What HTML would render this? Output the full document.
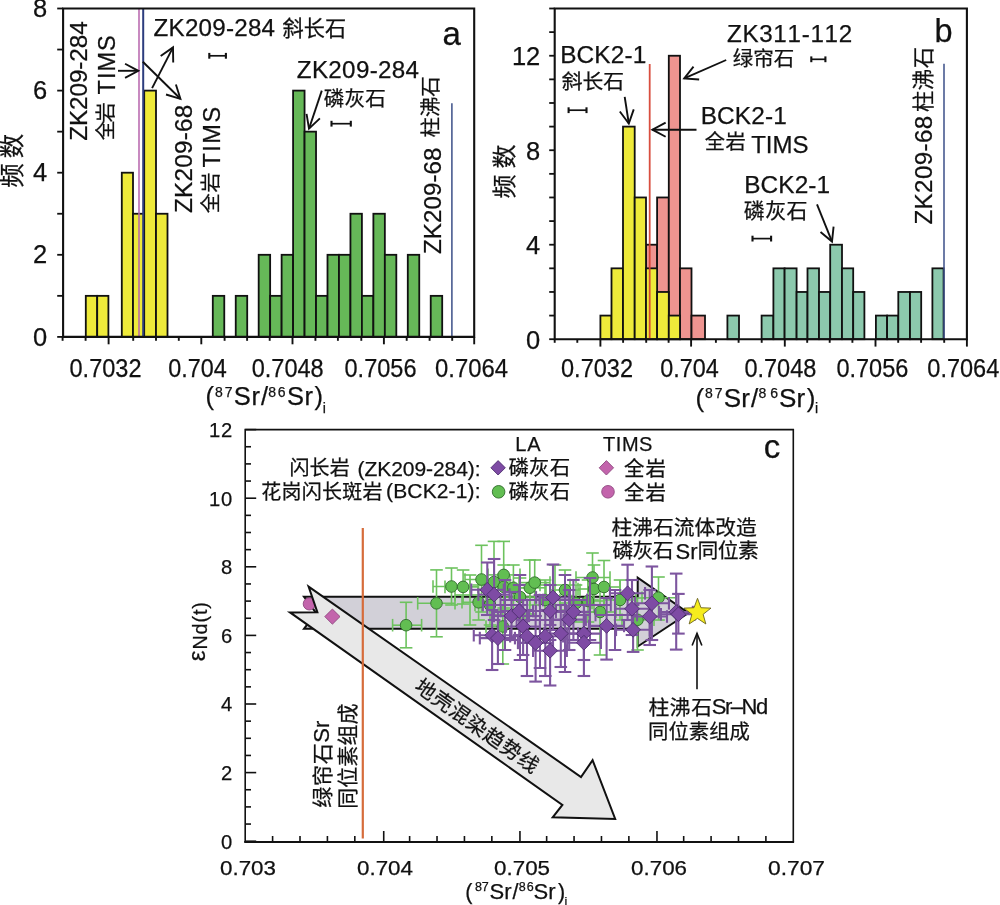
<!DOCTYPE html>
<html><head><meta charset="utf-8"><style>
html,body{margin:0;padding:0;background:#fff;}
svg{display:block;will-change:transform;}
text{stroke:#111;stroke-width:0.25px;font-kerning:none;}
</style></head><body>
<svg width="1000" height="905" viewBox="0 0 1000 905">
<rect width="1000" height="905" fill="#fff"/>
<rect x="85.80" y="295.85" width="11.40" height="41.05" fill="#EEEA3A" stroke="#111" stroke-width="1.8"/>
<rect x="97.20" y="295.85" width="11.20" height="41.05" fill="#EEEA3A" stroke="#111" stroke-width="1.8"/>
<rect x="121.80" y="172.70" width="11.20" height="164.20" fill="#EEEA3A" stroke="#111" stroke-width="1.8"/>
<rect x="133.00" y="213.75" width="11.20" height="123.15" fill="#EEEA3A" stroke="#111" stroke-width="1.8"/>
<rect x="144.20" y="90.60" width="11.80" height="246.30" fill="#EEEA3A" stroke="#111" stroke-width="1.8"/>
<rect x="156.00" y="213.75" width="11.50" height="123.15" fill="#EEEA3A" stroke="#111" stroke-width="1.8"/>
<rect x="212.80" y="295.85" width="11.47" height="41.05" fill="#66B858" stroke="#111" stroke-width="1.8"/>
<rect x="235.74" y="295.85" width="11.47" height="41.05" fill="#66B858" stroke="#111" stroke-width="1.8"/>
<rect x="258.68" y="254.80" width="11.47" height="82.10" fill="#66B858" stroke="#111" stroke-width="1.8"/>
<rect x="270.15" y="295.85" width="11.47" height="41.05" fill="#66B858" stroke="#111" stroke-width="1.8"/>
<rect x="281.62" y="254.80" width="11.47" height="82.10" fill="#66B858" stroke="#111" stroke-width="1.8"/>
<rect x="293.09" y="90.60" width="11.47" height="246.30" fill="#66B858" stroke="#111" stroke-width="1.8"/>
<rect x="304.56" y="131.65" width="11.47" height="205.25" fill="#66B858" stroke="#111" stroke-width="1.8"/>
<rect x="316.03" y="295.85" width="11.47" height="41.05" fill="#66B858" stroke="#111" stroke-width="1.8"/>
<rect x="327.50" y="254.80" width="11.47" height="82.10" fill="#66B858" stroke="#111" stroke-width="1.8"/>
<rect x="338.97" y="254.80" width="11.47" height="82.10" fill="#66B858" stroke="#111" stroke-width="1.8"/>
<rect x="350.44" y="213.75" width="11.47" height="123.15" fill="#66B858" stroke="#111" stroke-width="1.8"/>
<rect x="361.91" y="295.85" width="11.47" height="41.05" fill="#66B858" stroke="#111" stroke-width="1.8"/>
<rect x="373.38" y="213.75" width="11.47" height="123.15" fill="#66B858" stroke="#111" stroke-width="1.8"/>
<rect x="384.85" y="254.80" width="11.47" height="82.10" fill="#66B858" stroke="#111" stroke-width="1.8"/>
<rect x="407.79" y="254.80" width="11.47" height="82.10" fill="#66B858" stroke="#111" stroke-width="1.8"/>
<rect x="430.73" y="295.85" width="11.47" height="41.05" fill="#66B858" stroke="#111" stroke-width="1.8"/>
<line x1="139.00" y1="8.50" x2="139.00" y2="336.90" stroke="#B866AE" stroke-width="1.9" opacity="0.8"/>
<line x1="143.20" y1="8.50" x2="143.20" y2="336.90" stroke="#2C3D7E" stroke-width="2.0" />
<line x1="451.90" y1="103.30" x2="451.90" y2="336.90" stroke="#3B4F88" stroke-width="1.5" />
<path d="M63.1,336.9 L63.1,8.5 L474.2,8.5 L474.2,336.9 Z" fill="none" stroke="#111" stroke-width="2.1"/>
<line x1="57.20" y1="336.90" x2="63.10" y2="336.90" stroke="#111" stroke-width="1.8" />
<line x1="57.20" y1="295.85" x2="63.10" y2="295.85" stroke="#111" stroke-width="1.8" />
<line x1="57.20" y1="254.80" x2="63.10" y2="254.80" stroke="#111" stroke-width="1.8" />
<line x1="57.20" y1="213.75" x2="63.10" y2="213.75" stroke="#111" stroke-width="1.8" />
<line x1="57.20" y1="172.70" x2="63.10" y2="172.70" stroke="#111" stroke-width="1.8" />
<line x1="57.20" y1="131.65" x2="63.10" y2="131.65" stroke="#111" stroke-width="1.8" />
<line x1="57.20" y1="90.60" x2="63.10" y2="90.60" stroke="#111" stroke-width="1.8" />
<line x1="57.20" y1="49.55" x2="63.10" y2="49.55" stroke="#111" stroke-width="1.8" />
<line x1="57.20" y1="8.50" x2="63.10" y2="8.50" stroke="#111" stroke-width="1.8" />
<line x1="62.60" y1="336.90" x2="62.60" y2="340.80" stroke="#111" stroke-width="1.9" />
<line x1="85.60" y1="336.90" x2="85.60" y2="340.80" stroke="#111" stroke-width="1.9" />
<line x1="108.60" y1="336.90" x2="108.60" y2="344.30" stroke="#111" stroke-width="1.9" />
<line x1="133.20" y1="336.90" x2="133.20" y2="340.80" stroke="#111" stroke-width="1.9" />
<line x1="156.00" y1="336.90" x2="156.00" y2="340.80" stroke="#111" stroke-width="1.9" />
<line x1="178.80" y1="336.90" x2="178.80" y2="340.80" stroke="#111" stroke-width="1.9" />
<line x1="201.30" y1="336.90" x2="201.30" y2="344.30" stroke="#111" stroke-width="1.9" />
<line x1="224.60" y1="336.90" x2="224.60" y2="340.80" stroke="#111" stroke-width="1.9" />
<line x1="247.10" y1="336.90" x2="247.10" y2="340.80" stroke="#111" stroke-width="1.9" />
<line x1="269.70" y1="336.90" x2="269.70" y2="340.80" stroke="#111" stroke-width="1.9" />
<line x1="292.50" y1="336.90" x2="292.50" y2="344.30" stroke="#111" stroke-width="1.9" />
<line x1="315.40" y1="336.90" x2="315.40" y2="340.80" stroke="#111" stroke-width="1.9" />
<line x1="337.90" y1="336.90" x2="337.90" y2="340.80" stroke="#111" stroke-width="1.9" />
<line x1="361.30" y1="336.90" x2="361.30" y2="340.80" stroke="#111" stroke-width="1.9" />
<line x1="383.90" y1="336.90" x2="383.90" y2="344.30" stroke="#111" stroke-width="1.9" />
<line x1="406.70" y1="336.90" x2="406.70" y2="340.80" stroke="#111" stroke-width="1.9" />
<line x1="429.60" y1="336.90" x2="429.60" y2="340.80" stroke="#111" stroke-width="1.9" />
<line x1="452.20" y1="336.90" x2="452.20" y2="340.80" stroke="#111" stroke-width="1.9" />
<line x1="474.20" y1="336.90" x2="474.20" y2="344.30" stroke="#111" stroke-width="1.9" />
<text x="47.20" y="345.50" font-size="25.5" font-family="'Liberation Sans', Arial, sans-serif" text-anchor="end" fill="#111" >0</text>
<text x="47.20" y="263.40" font-size="25.5" font-family="'Liberation Sans', Arial, sans-serif" text-anchor="end" fill="#111" >2</text>
<text x="47.20" y="181.30" font-size="25.5" font-family="'Liberation Sans', Arial, sans-serif" text-anchor="end" fill="#111" >4</text>
<text x="47.20" y="99.20" font-size="25.5" font-family="'Liberation Sans', Arial, sans-serif" text-anchor="end" fill="#111" >6</text>
<text x="47.20" y="17.10" font-size="25.5" font-family="'Liberation Sans', Arial, sans-serif" text-anchor="end" fill="#111" >8</text>
<text x="105.50" y="377.00" font-size="26" font-family="'Liberation Sans', Arial, sans-serif" text-anchor="middle" fill="#111" textLength="72" lengthAdjust="spacingAndGlyphs" >0.7032</text>
<text x="197.60" y="377.00" font-size="26" font-family="'Liberation Sans', Arial, sans-serif" text-anchor="middle" fill="#111" textLength="58.5" lengthAdjust="spacingAndGlyphs" >0.704</text>
<text x="287.70" y="377.00" font-size="26" font-family="'Liberation Sans', Arial, sans-serif" text-anchor="middle" fill="#111" textLength="72" lengthAdjust="spacingAndGlyphs" >0.7048</text>
<text x="380.50" y="377.00" font-size="26" font-family="'Liberation Sans', Arial, sans-serif" text-anchor="middle" fill="#111" textLength="72" lengthAdjust="spacingAndGlyphs" >0.7056</text>
<text x="435.00" y="377.00" font-size="26" font-family="'Liberation Sans', Arial, sans-serif" text-anchor="start" fill="#111" textLength="73" lengthAdjust="spacingAndGlyphs" >0.7064</text>
<text transform="translate(87.00,140.77) rotate(-90)" x="0" y="0" font-size="24.4" font-family="'Liberation Sans', Arial, sans-serif" letter-spacing="-0.15" fill="#111">ZK209-284</text>
<text transform="translate(112.80,140.22) rotate(-90)" x="0" y="0" font-size="20" font-family="'Liberation Sans', 'Noto Sans CJK SC', 'WenQuanYi Zen Hei', sans-serif" letter-spacing="-1.92" fill="#111">全岩</text>
<text transform="translate(115.20,94.53) rotate(-90)" x="0" y="0" font-size="23.5" font-family="'Liberation Sans', Arial, sans-serif" letter-spacing="1.06" fill="#111">TIMS</text>
<text transform="translate(191.80,212.97) rotate(-90)" x="0" y="0" font-size="24.4" font-family="'Liberation Sans', Arial, sans-serif" letter-spacing="0.15" fill="#111">ZK209-68</text>
<text transform="translate(217.80,213.22) rotate(-90)" x="0" y="0" font-size="20" font-family="'Liberation Sans', 'Noto Sans CJK SC', 'WenQuanYi Zen Hei', sans-serif" letter-spacing="0.68" fill="#111">全岩</text>
<text transform="translate(220.20,167.53) rotate(-90)" x="0" y="0" font-size="23.5" font-family="'Liberation Sans', Arial, sans-serif" letter-spacing="1.49" fill="#111">TIMS</text>
<text x="153.53" y="36.30" font-size="24.2" font-family="'Liberation Sans', Arial, sans-serif" letter-spacing="0.23" fill="#111">ZK209-284</text>
<text x="282.49" y="36.30" font-size="21.2" font-family="'Liberation Sans', 'Noto Sans CJK SC', 'WenQuanYi Zen Hei', sans-serif" letter-spacing="0.13" fill="#111">斜长石</text>
<text x="296.83" y="77.90" font-size="24.2" font-family="'Liberation Sans', Arial, sans-serif" letter-spacing="0.31" fill="#111">ZK209-284</text>
<text x="323.70" y="105.50" font-size="20.6" font-family="'Liberation Sans', 'Noto Sans CJK SC', 'WenQuanYi Zen Hei', sans-serif" letter-spacing="0.16" fill="#111">磷灰石</text>
<text transform="translate(441.00,253.97) rotate(-90)" x="0" y="0" font-size="24.2" font-family="'Liberation Sans', Arial, sans-serif" letter-spacing="0.02" fill="#111">ZK209-68</text>
<text transform="translate(438.20,137.40) rotate(-90)" x="0" y="0" font-size="20.5" font-family="'Liberation Sans', 'Noto Sans CJK SC', 'WenQuanYi Zen Hei', sans-serif" letter-spacing="-0.15" fill="#111">柱沸石</text>
<text x="442.60" y="44.50" font-size="33" font-family="'Liberation Sans', Arial, sans-serif" letter-spacing="0.00" fill="#111">a</text>
<text transform="translate(21.40,187.71) rotate(-90)" x="0" y="0" font-size="24.5" font-family="'Liberation Sans', 'Noto Sans CJK SC', 'WenQuanYi Zen Hei', sans-serif" letter-spacing="0.00" fill="#111">频</text>
<text transform="translate(21.40,158.16) rotate(-90)" x="0" y="0" font-size="24.5" font-family="'Liberation Sans', 'Noto Sans CJK SC', 'WenQuanYi Zen Hei', sans-serif" letter-spacing="0.00" fill="#111">数</text>
<text x="205.42" y="405.30" font-size="25.5" font-family="'Liberation Sans', Arial, sans-serif" letter-spacing="0.00" fill="#111">(</text>
<text x="215.09" y="397.40" font-size="14" font-family="'Liberation Sans', Arial, sans-serif" letter-spacing="1.84" fill="#111">87</text>
<text x="233.84" y="405.30" font-size="25.5" font-family="'Liberation Sans', Arial, sans-serif" letter-spacing="0.58" fill="#111">Sr</text>
<text x="260.90" y="405.30" font-size="25.5" font-family="'Liberation Sans', Arial, sans-serif" letter-spacing="0.00" fill="#111">/</text>
<text x="268.19" y="397.40" font-size="14" font-family="'Liberation Sans', Arial, sans-serif" letter-spacing="1.85" fill="#111">86</text>
<text x="286.94" y="405.30" font-size="25.5" font-family="'Liberation Sans', Arial, sans-serif" letter-spacing="0.58" fill="#111">Sr</text>
<text x="314.55" y="405.30" font-size="25.5" font-family="'Liberation Sans', Arial, sans-serif" letter-spacing="0.00" fill="#111">)</text>
<text x="322.86" y="412.80" font-size="14" font-family="'Liberation Sans', Arial, sans-serif" letter-spacing="0.00" fill="#111">i</text>
<line x1="118.00" y1="70.80" x2="138.30" y2="70.80" stroke="#111" stroke-width="1.9"/>
<polyline points="125.06,77.84 138.30,70.80 125.06,63.76" fill="none" stroke="#111" stroke-width="1.9"/>
<line x1="152.10" y1="88.10" x2="173.00" y2="47.40" stroke="#111" stroke-width="1.9"/>
<polyline points="173.21,62.40 173.00,47.40 160.69,55.96" fill="none" stroke="#111" stroke-width="1.9"/>
<line x1="142.80" y1="61.80" x2="180.40" y2="98.80" stroke="#111" stroke-width="1.9"/>
<polyline points="166.02,94.53 180.40,98.80 175.90,84.49" fill="none" stroke="#111" stroke-width="1.9"/>
<line x1="321.80" y1="90.60" x2="309.00" y2="128.70" stroke="#111" stroke-width="1.9"/>
<polyline points="306.54,113.90 309.00,128.70 319.89,118.39" fill="none" stroke="#111" stroke-width="1.9"/>
<line x1="209.00" y1="55.80" x2="226.20" y2="55.80" stroke="#111" stroke-width="1.7" />
<line x1="209.30" y1="52.90" x2="209.30" y2="58.70" stroke="#111" stroke-width="2.1" />
<line x1="225.90" y1="52.90" x2="225.90" y2="58.70" stroke="#111" stroke-width="2.1" />
<line x1="331.20" y1="123.70" x2="351.10" y2="123.70" stroke="#111" stroke-width="1.7" />
<line x1="331.50" y1="120.80" x2="331.50" y2="126.60" stroke="#111" stroke-width="2.1" />
<line x1="350.80" y1="120.80" x2="350.80" y2="126.60" stroke="#111" stroke-width="2.1" />
<rect x="646.00" y="244.71" width="11.10" height="94.49" fill="#EE9490" stroke="#111" stroke-width="1.8"/>
<rect x="657.10" y="197.47" width="11.70" height="141.73" fill="#EE9490" stroke="#111" stroke-width="1.8"/>
<rect x="668.80" y="55.74" width="11.20" height="283.46" fill="#EE9490" stroke="#111" stroke-width="1.8"/>
<rect x="680.00" y="268.34" width="11.50" height="70.86" fill="#EE9490" stroke="#111" stroke-width="1.8"/>
<rect x="691.50" y="315.58" width="13.50" height="23.62" fill="#EE9490" stroke="#111" stroke-width="1.8"/>
<rect x="600.40" y="315.58" width="11.10" height="23.62" fill="#EEEA3A" stroke="#111" stroke-width="1.8"/>
<rect x="611.50" y="268.34" width="11.50" height="70.86" fill="#EEEA3A" stroke="#111" stroke-width="1.8"/>
<rect x="623.00" y="126.61" width="11.70" height="212.59" fill="#EEEA3A" stroke="#111" stroke-width="1.8"/>
<rect x="634.70" y="197.47" width="11.30" height="141.73" fill="#EEEA3A" stroke="#111" stroke-width="1.8"/>
<rect x="646.00" y="268.34" width="11.10" height="70.86" fill="#EEEA3A" stroke="#111" stroke-width="1.8"/>
<rect x="657.10" y="291.96" width="11.70" height="47.24" fill="#EEEA3A" stroke="#111" stroke-width="1.8"/>
<rect x="668.80" y="315.58" width="11.20" height="23.62" fill="#EEEA3A" stroke="#111" stroke-width="1.8"/>
<rect x="727.40" y="315.58" width="11.60" height="23.62" fill="#8CC9AD" stroke="#111" stroke-width="1.8"/>
<rect x="761.60" y="315.58" width="11.80" height="23.62" fill="#8CC9AD" stroke="#111" stroke-width="1.8"/>
<rect x="773.40" y="268.34" width="11.20" height="70.86" fill="#8CC9AD" stroke="#111" stroke-width="1.8"/>
<rect x="784.60" y="268.34" width="12.00" height="70.86" fill="#8CC9AD" stroke="#111" stroke-width="1.8"/>
<rect x="796.60" y="291.96" width="10.90" height="47.24" fill="#8CC9AD" stroke="#111" stroke-width="1.8"/>
<rect x="807.50" y="268.34" width="11.50" height="70.86" fill="#8CC9AD" stroke="#111" stroke-width="1.8"/>
<rect x="819.00" y="291.96" width="11.20" height="47.24" fill="#8CC9AD" stroke="#111" stroke-width="1.8"/>
<rect x="830.20" y="244.71" width="11.80" height="94.49" fill="#8CC9AD" stroke="#111" stroke-width="1.8"/>
<rect x="842.00" y="268.34" width="11.20" height="70.86" fill="#8CC9AD" stroke="#111" stroke-width="1.8"/>
<rect x="853.20" y="291.96" width="11.20" height="47.24" fill="#8CC9AD" stroke="#111" stroke-width="1.8"/>
<rect x="875.90" y="315.58" width="11.20" height="23.62" fill="#8CC9AD" stroke="#111" stroke-width="1.8"/>
<rect x="887.10" y="315.58" width="11.20" height="23.62" fill="#8CC9AD" stroke="#111" stroke-width="1.8"/>
<rect x="898.30" y="291.96" width="11.70" height="47.24" fill="#8CC9AD" stroke="#111" stroke-width="1.8"/>
<rect x="910.00" y="291.96" width="11.20" height="47.24" fill="#8CC9AD" stroke="#111" stroke-width="1.8"/>
<rect x="932.40" y="268.34" width="11.20" height="70.86" fill="#8CC9AD" stroke="#111" stroke-width="1.8"/>
<line x1="649.70" y1="64.10" x2="649.70" y2="339.20" stroke="#D6402F" stroke-width="1.8" opacity="0.92"/>
<line x1="944.00" y1="63.70" x2="944.00" y2="339.20" stroke="#3B4F88" stroke-width="1.5" />
<path d="M554.7,339.2 L554.7,8.5 L966.9,8.5 L966.9,339.2 Z" fill="none" stroke="#111" stroke-width="2.1"/>
<line x1="549.20" y1="339.20" x2="554.70" y2="339.20" stroke="#111" stroke-width="1.8" />
<line x1="549.20" y1="315.58" x2="554.70" y2="315.58" stroke="#111" stroke-width="1.8" />
<line x1="549.20" y1="291.96" x2="554.70" y2="291.96" stroke="#111" stroke-width="1.8" />
<line x1="549.20" y1="268.34" x2="554.70" y2="268.34" stroke="#111" stroke-width="1.8" />
<line x1="549.20" y1="244.71" x2="554.70" y2="244.71" stroke="#111" stroke-width="1.8" />
<line x1="549.20" y1="221.09" x2="554.70" y2="221.09" stroke="#111" stroke-width="1.8" />
<line x1="549.20" y1="197.47" x2="554.70" y2="197.47" stroke="#111" stroke-width="1.8" />
<line x1="549.20" y1="173.85" x2="554.70" y2="173.85" stroke="#111" stroke-width="1.8" />
<line x1="549.20" y1="150.23" x2="554.70" y2="150.23" stroke="#111" stroke-width="1.8" />
<line x1="549.20" y1="126.61" x2="554.70" y2="126.61" stroke="#111" stroke-width="1.8" />
<line x1="549.20" y1="102.99" x2="554.70" y2="102.99" stroke="#111" stroke-width="1.8" />
<line x1="549.20" y1="79.36" x2="554.70" y2="79.36" stroke="#111" stroke-width="1.8" />
<line x1="549.20" y1="55.74" x2="554.70" y2="55.74" stroke="#111" stroke-width="1.8" />
<line x1="549.20" y1="32.12" x2="554.70" y2="32.12" stroke="#111" stroke-width="1.8" />
<line x1="549.20" y1="8.50" x2="554.70" y2="8.50" stroke="#111" stroke-width="1.8" />
<line x1="554.70" y1="339.20" x2="554.70" y2="342.80" stroke="#111" stroke-width="1.9" />
<line x1="577.30" y1="339.20" x2="577.30" y2="342.80" stroke="#111" stroke-width="1.9" />
<line x1="600.40" y1="339.20" x2="600.40" y2="346.60" stroke="#111" stroke-width="1.9" />
<line x1="623.10" y1="339.20" x2="623.10" y2="342.80" stroke="#111" stroke-width="1.9" />
<line x1="646.20" y1="339.20" x2="646.20" y2="342.80" stroke="#111" stroke-width="1.9" />
<line x1="668.60" y1="339.20" x2="668.60" y2="342.80" stroke="#111" stroke-width="1.9" />
<line x1="691.10" y1="339.20" x2="691.10" y2="346.60" stroke="#111" stroke-width="1.9" />
<line x1="715.90" y1="339.20" x2="715.90" y2="342.80" stroke="#111" stroke-width="1.9" />
<line x1="738.60" y1="339.20" x2="738.60" y2="342.80" stroke="#111" stroke-width="1.9" />
<line x1="761.70" y1="339.20" x2="761.70" y2="342.80" stroke="#111" stroke-width="1.9" />
<line x1="784.80" y1="339.20" x2="784.80" y2="346.60" stroke="#111" stroke-width="1.9" />
<line x1="807.20" y1="339.20" x2="807.20" y2="342.80" stroke="#111" stroke-width="1.9" />
<line x1="829.70" y1="339.20" x2="829.70" y2="342.80" stroke="#111" stroke-width="1.9" />
<line x1="852.40" y1="339.20" x2="852.40" y2="342.80" stroke="#111" stroke-width="1.9" />
<line x1="875.50" y1="339.20" x2="875.50" y2="346.60" stroke="#111" stroke-width="1.9" />
<line x1="898.20" y1="339.20" x2="898.20" y2="342.80" stroke="#111" stroke-width="1.9" />
<line x1="921.10" y1="339.20" x2="921.10" y2="342.80" stroke="#111" stroke-width="1.9" />
<line x1="944.20" y1="339.20" x2="944.20" y2="342.80" stroke="#111" stroke-width="1.9" />
<line x1="966.90" y1="339.20" x2="966.90" y2="346.60" stroke="#111" stroke-width="1.9" />
<text x="540.30" y="348.60" font-size="25.5" font-family="'Liberation Sans', Arial, sans-serif" text-anchor="end" fill="#111" >0</text>
<text x="540.30" y="254.11" font-size="25.5" font-family="'Liberation Sans', Arial, sans-serif" text-anchor="end" fill="#111" >4</text>
<text x="540.30" y="159.63" font-size="25.5" font-family="'Liberation Sans', Arial, sans-serif" text-anchor="end" fill="#111" >8</text>
<text x="540.30" y="65.14" font-size="25.5" font-family="'Liberation Sans', Arial, sans-serif" text-anchor="end" fill="#111" >12</text>
<text x="597.00" y="377.20" font-size="26" font-family="'Liberation Sans', Arial, sans-serif" text-anchor="middle" fill="#111" textLength="72" lengthAdjust="spacingAndGlyphs" >0.7032</text>
<text x="689.50" y="377.20" font-size="26" font-family="'Liberation Sans', Arial, sans-serif" text-anchor="middle" fill="#111" textLength="58.5" lengthAdjust="spacingAndGlyphs" >0.704</text>
<text x="780.40" y="377.20" font-size="26" font-family="'Liberation Sans', Arial, sans-serif" text-anchor="middle" fill="#111" textLength="72" lengthAdjust="spacingAndGlyphs" >0.7048</text>
<text x="872.40" y="377.20" font-size="26" font-family="'Liberation Sans', Arial, sans-serif" text-anchor="middle" fill="#111" textLength="72" lengthAdjust="spacingAndGlyphs" >0.7056</text>
<text x="927.30" y="377.30" font-size="26.3" font-family="'Liberation Sans', Arial, sans-serif" text-anchor="start" fill="#111" textLength="72" lengthAdjust="spacingAndGlyphs" >0.7064</text>
<text x="560.20" y="63.00" font-size="24.4" font-family="'Liberation Sans', Arial, sans-serif" letter-spacing="0.15" fill="#111">BCK2-1</text>
<text x="561.70" y="89.00" font-size="20.8" font-family="'Liberation Sans', 'Noto Sans CJK SC', 'WenQuanYi Zen Hei', sans-serif" letter-spacing="-0.03" fill="#111">斜长石</text>
<text x="726.93" y="41.90" font-size="24.2" font-family="'Liberation Sans', Arial, sans-serif" letter-spacing="0.69" fill="#111">ZK311-112</text>
<text x="732.80" y="66.30" font-size="20.5" font-family="'Liberation Sans', 'Noto Sans CJK SC', 'WenQuanYi Zen Hei', sans-serif" letter-spacing="0.00" fill="#111">绿帘石</text>
<text x="700.70" y="123.70" font-size="24.4" font-family="'Liberation Sans', Arial, sans-serif" letter-spacing="0.15" fill="#111">BCK2-1</text>
<text x="704.67" y="149.30" font-size="20.3" font-family="'Liberation Sans', 'Noto Sans CJK SC', 'WenQuanYi Zen Hei', sans-serif" letter-spacing="0.60" fill="#111">全岩</text>
<text x="751.16" y="152.70" font-size="24" font-family="'Liberation Sans', Arial, sans-serif" letter-spacing="0.04" fill="#111">TIMS</text>
<text x="744.20" y="192.60" font-size="24.4" font-family="'Liberation Sans', Arial, sans-serif" letter-spacing="0.11" fill="#111">BCK2-1</text>
<text x="743.79" y="218.30" font-size="21" font-family="'Liberation Sans', 'Noto Sans CJK SC', 'WenQuanYi Zen Hei', sans-serif" letter-spacing="0.38" fill="#111">磷灰石</text>
<text transform="translate(932.30,224.57) rotate(-90)" x="0" y="0" font-size="24.2" font-family="'Liberation Sans', Arial, sans-serif" letter-spacing="0.38" fill="#111">ZK209-68</text>
<text transform="translate(930.60,112.12) rotate(-90)" x="0" y="0" font-size="21.3" font-family="'Liberation Sans', 'Noto Sans CJK SC', 'WenQuanYi Zen Hei', sans-serif" letter-spacing="0.59" fill="#111">柱沸石</text>
<text x="934.41" y="41.60" font-size="32.5" font-family="'Liberation Sans', Arial, sans-serif" letter-spacing="0.00" fill="#111">b</text>
<text transform="translate(513.30,198.39) rotate(-90)" x="0" y="0" font-size="24" font-family="'Liberation Sans', 'Noto Sans CJK SC', 'WenQuanYi Zen Hei', sans-serif" letter-spacing="0.00" fill="#111">频</text>
<text transform="translate(513.30,168.54) rotate(-90)" x="0" y="0" font-size="24" font-family="'Liberation Sans', 'Noto Sans CJK SC', 'WenQuanYi Zen Hei', sans-serif" letter-spacing="0.00" fill="#111">数</text>
<text x="695.39" y="407.20" font-size="26" font-family="'Liberation Sans', Arial, sans-serif" letter-spacing="0.00" fill="#111">(</text>
<text x="705.09" y="397.60" font-size="14" font-family="'Liberation Sans', Arial, sans-serif" letter-spacing="1.84" fill="#111">87</text>
<text x="723.82" y="407.20" font-size="26" font-family="'Liberation Sans', Arial, sans-serif" letter-spacing="0.11" fill="#111">Sr</text>
<text x="750.90" y="407.20" font-size="26" font-family="'Liberation Sans', Arial, sans-serif" letter-spacing="0.00" fill="#111">/</text>
<text x="758.59" y="397.60" font-size="14" font-family="'Liberation Sans', Arial, sans-serif" letter-spacing="3.85" fill="#111">86</text>
<text x="779.02" y="407.20" font-size="26" font-family="'Liberation Sans', Arial, sans-serif" letter-spacing="0.11" fill="#111">Sr</text>
<text x="806.65" y="407.20" font-size="26" font-family="'Liberation Sans', Arial, sans-serif" letter-spacing="0.00" fill="#111">)</text>
<text x="814.96" y="412.80" font-size="14" font-family="'Liberation Sans', Arial, sans-serif" letter-spacing="0.00" fill="#111">i</text>
<line x1="624.70" y1="96.90" x2="628.80" y2="123.50" stroke="#111" stroke-width="1.9"/>
<polyline points="619.82,111.48 628.80,123.50 633.74,109.34" fill="none" stroke="#111" stroke-width="1.9"/>
<line x1="726.20" y1="60.00" x2="684.20" y2="78.40" stroke="#111" stroke-width="1.9"/>
<polyline points="693.51,66.64 684.20,78.40 699.16,79.54" fill="none" stroke="#111" stroke-width="1.9"/>
<line x1="696.50" y1="129.70" x2="652.40" y2="129.70" stroke="#111" stroke-width="1.9"/>
<polyline points="665.64,122.66 652.40,129.70 665.64,136.74" fill="none" stroke="#111" stroke-width="1.9"/>
<line x1="817.00" y1="204.40" x2="832.00" y2="241.60" stroke="#111" stroke-width="1.9"/>
<polyline points="820.52,231.95 832.00,241.60 833.58,226.68" fill="none" stroke="#111" stroke-width="1.9"/>
<line x1="568.30" y1="110.20" x2="586.80" y2="110.20" stroke="#111" stroke-width="1.7" />
<line x1="568.60" y1="107.30" x2="568.60" y2="113.10" stroke="#111" stroke-width="2.1" />
<line x1="586.50" y1="107.30" x2="586.50" y2="113.10" stroke="#111" stroke-width="2.1" />
<line x1="811.00" y1="59.30" x2="825.70" y2="59.30" stroke="#111" stroke-width="1.7" />
<line x1="811.30" y1="56.40" x2="811.30" y2="62.20" stroke="#111" stroke-width="2.1" />
<line x1="825.40" y1="56.40" x2="825.40" y2="62.20" stroke="#111" stroke-width="2.1" />
<line x1="752.20" y1="238.60" x2="771.40" y2="238.60" stroke="#111" stroke-width="1.7" />
<line x1="752.50" y1="235.70" x2="752.50" y2="241.50" stroke="#111" stroke-width="2.1" />
<line x1="771.10" y1="235.70" x2="771.10" y2="241.50" stroke="#111" stroke-width="2.1" />
<line x1="245.20" y1="841.20" x2="256.20" y2="841.20" stroke="#111" stroke-width="1.6" />
<line x1="245.20" y1="824.05" x2="251.00" y2="824.05" stroke="#111" stroke-width="1.6" />
<line x1="245.20" y1="806.90" x2="251.00" y2="806.90" stroke="#111" stroke-width="1.6" />
<line x1="245.20" y1="789.75" x2="251.00" y2="789.75" stroke="#111" stroke-width="1.6" />
<line x1="245.20" y1="772.60" x2="256.20" y2="772.60" stroke="#111" stroke-width="1.6" />
<line x1="245.20" y1="755.45" x2="251.00" y2="755.45" stroke="#111" stroke-width="1.6" />
<line x1="245.20" y1="738.30" x2="251.00" y2="738.30" stroke="#111" stroke-width="1.6" />
<line x1="245.20" y1="721.15" x2="251.00" y2="721.15" stroke="#111" stroke-width="1.6" />
<line x1="245.20" y1="704.00" x2="256.20" y2="704.00" stroke="#111" stroke-width="1.6" />
<line x1="245.20" y1="686.85" x2="251.00" y2="686.85" stroke="#111" stroke-width="1.6" />
<line x1="245.20" y1="669.70" x2="251.00" y2="669.70" stroke="#111" stroke-width="1.6" />
<line x1="245.20" y1="652.55" x2="251.00" y2="652.55" stroke="#111" stroke-width="1.6" />
<line x1="245.20" y1="635.40" x2="256.20" y2="635.40" stroke="#111" stroke-width="1.6" />
<line x1="245.20" y1="618.25" x2="251.00" y2="618.25" stroke="#111" stroke-width="1.6" />
<line x1="245.20" y1="601.10" x2="251.00" y2="601.10" stroke="#111" stroke-width="1.6" />
<line x1="245.20" y1="583.95" x2="251.00" y2="583.95" stroke="#111" stroke-width="1.6" />
<line x1="245.20" y1="566.80" x2="256.20" y2="566.80" stroke="#111" stroke-width="1.6" />
<line x1="245.20" y1="549.65" x2="251.00" y2="549.65" stroke="#111" stroke-width="1.6" />
<line x1="245.20" y1="532.50" x2="251.00" y2="532.50" stroke="#111" stroke-width="1.6" />
<line x1="245.20" y1="515.35" x2="251.00" y2="515.35" stroke="#111" stroke-width="1.6" />
<line x1="245.20" y1="498.20" x2="256.20" y2="498.20" stroke="#111" stroke-width="1.6" />
<line x1="245.20" y1="481.05" x2="251.00" y2="481.05" stroke="#111" stroke-width="1.6" />
<line x1="245.20" y1="463.90" x2="251.00" y2="463.90" stroke="#111" stroke-width="1.6" />
<line x1="245.20" y1="446.75" x2="251.00" y2="446.75" stroke="#111" stroke-width="1.6" />
<line x1="245.20" y1="429.60" x2="256.20" y2="429.60" stroke="#111" stroke-width="1.6" />
<line x1="272.60" y1="842.00" x2="272.60" y2="836.00" stroke="#111" stroke-width="1.6" />
<line x1="300.01" y1="842.00" x2="300.01" y2="836.00" stroke="#111" stroke-width="1.6" />
<line x1="327.41" y1="842.00" x2="327.41" y2="836.00" stroke="#111" stroke-width="1.6" />
<line x1="354.82" y1="842.00" x2="354.82" y2="836.00" stroke="#111" stroke-width="1.6" />
<line x1="383.72" y1="842.00" x2="383.72" y2="831.00" stroke="#111" stroke-width="1.6" />
<line x1="409.63" y1="842.00" x2="409.63" y2="836.00" stroke="#111" stroke-width="1.6" />
<line x1="437.03" y1="842.00" x2="437.03" y2="836.00" stroke="#111" stroke-width="1.6" />
<line x1="464.44" y1="842.00" x2="464.44" y2="836.00" stroke="#111" stroke-width="1.6" />
<line x1="491.84" y1="842.00" x2="491.84" y2="836.00" stroke="#111" stroke-width="1.6" />
<line x1="519.95" y1="842.00" x2="519.95" y2="831.00" stroke="#111" stroke-width="1.6" />
<line x1="546.65" y1="842.00" x2="546.65" y2="836.00" stroke="#111" stroke-width="1.6" />
<line x1="574.06" y1="842.00" x2="574.06" y2="836.00" stroke="#111" stroke-width="1.6" />
<line x1="601.46" y1="842.00" x2="601.46" y2="836.00" stroke="#111" stroke-width="1.6" />
<line x1="628.87" y1="842.00" x2="628.87" y2="836.00" stroke="#111" stroke-width="1.6" />
<line x1="656.97" y1="842.00" x2="656.97" y2="831.00" stroke="#111" stroke-width="1.6" />
<line x1="683.68" y1="842.00" x2="683.68" y2="836.00" stroke="#111" stroke-width="1.6" />
<line x1="711.08" y1="842.00" x2="711.08" y2="836.00" stroke="#111" stroke-width="1.6" />
<line x1="738.49" y1="842.00" x2="738.49" y2="836.00" stroke="#111" stroke-width="1.6" />
<line x1="765.89" y1="842.00" x2="765.89" y2="836.00" stroke="#111" stroke-width="1.6" />
<text x="233.20" y="848.50" font-size="20.2" font-family="'Liberation Sans', Arial, sans-serif" text-anchor="end" fill="#111" letter-spacing="0.9">0</text>
<text x="233.20" y="779.90" font-size="20.2" font-family="'Liberation Sans', Arial, sans-serif" text-anchor="end" fill="#111" letter-spacing="0.9">2</text>
<text x="233.20" y="711.30" font-size="20.2" font-family="'Liberation Sans', Arial, sans-serif" text-anchor="end" fill="#111" letter-spacing="0.9">4</text>
<text x="233.20" y="642.70" font-size="20.2" font-family="'Liberation Sans', Arial, sans-serif" text-anchor="end" fill="#111" letter-spacing="0.9">6</text>
<text x="233.20" y="574.10" font-size="20.2" font-family="'Liberation Sans', Arial, sans-serif" text-anchor="end" fill="#111" letter-spacing="0.9">8</text>
<text x="233.20" y="505.50" font-size="20.2" font-family="'Liberation Sans', Arial, sans-serif" text-anchor="end" fill="#111" letter-spacing="0.9">10</text>
<text x="233.20" y="436.90" font-size="20.2" font-family="'Liberation Sans', Arial, sans-serif" text-anchor="end" fill="#111" letter-spacing="0.9">12</text>
<text x="248.00" y="874.60" font-size="19.5" font-family="'Liberation Sans', Arial, sans-serif" text-anchor="middle" fill="#111" textLength="56" lengthAdjust="spacingAndGlyphs" >0.703</text>
<text x="385.02" y="874.60" font-size="19.5" font-family="'Liberation Sans', Arial, sans-serif" text-anchor="middle" fill="#111" textLength="56" lengthAdjust="spacingAndGlyphs" >0.704</text>
<text x="522.05" y="874.60" font-size="19.5" font-family="'Liberation Sans', Arial, sans-serif" text-anchor="middle" fill="#111" textLength="56" lengthAdjust="spacingAndGlyphs" >0.705</text>
<text x="659.07" y="874.60" font-size="19.5" font-family="'Liberation Sans', Arial, sans-serif" text-anchor="middle" fill="#111" textLength="56" lengthAdjust="spacingAndGlyphs" >0.706</text>
<text x="768.00" y="874.60" font-size="19.5" font-family="'Liberation Sans', Arial, sans-serif" text-anchor="start" fill="#111" textLength="57" lengthAdjust="spacingAndGlyphs" >0.707</text>
<text transform="translate(205.20,661.33) rotate(-90)" x="0" y="0" font-size="24.3" font-family="'Liberation Sans', Arial, sans-serif" letter-spacing="0.00" fill="#111">ε</text>
<text transform="translate(206.60,649.62) rotate(-90)" x="0" y="0" font-size="19.7" font-family="'Liberation Sans', Arial, sans-serif" letter-spacing="0.94" fill="#111">Nd(t)</text>
<text x="465.27" y="899.00" font-size="21.5" font-family="'Liberation Sans', Arial, sans-serif" letter-spacing="0.00" fill="#111">(</text>
<text x="475.06" y="891.20" font-size="12.5" font-family="'Liberation Sans', Arial, sans-serif" letter-spacing="-0.13" fill="#111">87</text>
<text x="489.60" y="899.00" font-size="22" font-family="'Liberation Sans', Arial, sans-serif" letter-spacing="0.00" fill="#111">Sr</text>
<text x="512.50" y="899.00" font-size="21.5" font-family="'Liberation Sans', Arial, sans-serif" letter-spacing="0.00" fill="#111">/</text>
<text x="518.66" y="891.20" font-size="12.5" font-family="'Liberation Sans', Arial, sans-serif" letter-spacing="1.19" fill="#111">86</text>
<text x="533.60" y="899.00" font-size="22" font-family="'Liberation Sans', Arial, sans-serif" letter-spacing="0.00" fill="#111">Sr</text>
<text x="557.97" y="899.00" font-size="21.5" font-family="'Liberation Sans', Arial, sans-serif" letter-spacing="0.00" fill="#111">)</text>
<text x="564.56" y="905.50" font-size="12.5" font-family="'Liberation Sans', Arial, sans-serif" letter-spacing="0.00" fill="#111">i</text>
<text x="763.70" y="457.90" font-size="33" font-family="'Liberation Sans', Arial, sans-serif" letter-spacing="0.00" fill="#111">c</text>
<text x="515.36" y="451.00" font-size="20" font-family="'Liberation Sans', Arial, sans-serif" letter-spacing="0.72" fill="#111">LA</text>
<text x="603.05" y="451.00" font-size="20" font-family="'Liberation Sans', Arial, sans-serif" letter-spacing="0.53" fill="#111">TIMS</text>
<text x="289.38" y="475.30" font-size="20" font-family="'Liberation Sans', 'Noto Sans CJK SC', 'WenQuanYi Zen Hei', sans-serif" letter-spacing="0.14" fill="#111">闪长岩</text>
<text x="357.50" y="475.80" font-size="21" font-family="'Liberation Sans', Arial, sans-serif" letter-spacing="-0.06" fill="#111">(ZK209-284):</text>
<text x="261.18" y="498.70" font-size="20" font-family="'Liberation Sans', 'Noto Sans CJK SC', 'WenQuanYi Zen Hei', sans-serif" letter-spacing="0.26" fill="#111">花岗闪长斑岩</text>
<text x="386.10" y="498.00" font-size="21" font-family="'Liberation Sans', Arial, sans-serif" letter-spacing="0.13" fill="#111">(BCK2-1):</text>
<text x="508.41" y="475.30" font-size="20.5" font-family="'Liberation Sans', 'Noto Sans CJK SC', 'WenQuanYi Zen Hei', sans-serif" letter-spacing="0.20" fill="#111">磷灰石</text>
<text x="508.41" y="499.30" font-size="20.5" font-family="'Liberation Sans', 'Noto Sans CJK SC', 'WenQuanYi Zen Hei', sans-serif" letter-spacing="0.20" fill="#111">磷灰石</text>
<text x="623.97" y="475.80" font-size="20.5" font-family="'Liberation Sans', 'Noto Sans CJK SC', 'WenQuanYi Zen Hei', sans-serif" letter-spacing="1.12" fill="#111">全岩</text>
<text x="623.97" y="499.80" font-size="20.5" font-family="'Liberation Sans', 'Noto Sans CJK SC', 'WenQuanYi Zen Hei', sans-serif" letter-spacing="1.12" fill="#111">全岩</text>
<path d="M498.10,460.60 L505.30,467.80 L498.10,475.00 L490.90,467.80 Z" fill="#7E4BA4" stroke="#4E2E70" stroke-width="0.9"/>
<path d="M606.40,460.60 L613.60,467.80 L606.40,475.00 L599.20,467.80 Z" fill="#C364AC" stroke="#8E4A80" stroke-width="0.9"/>
<circle cx="498.60" cy="491.80" r="6.3" fill="#62BE52" stroke="#2F6B2A" stroke-width="0.9"/>
<circle cx="608.00" cy="491.80" r="6.3" fill="#C364AC" stroke="#8E4A80" stroke-width="0.9"/>
<text x="611.49" y="535.20" font-size="20.8" font-family="'Liberation Sans', 'Noto Sans CJK SC', 'WenQuanYi Zen Hei', sans-serif" letter-spacing="-0.05" fill="#111">柱沸石流体改造</text>
<text x="612.40" y="557.90" font-size="20.8" font-family="'Liberation Sans', 'Noto Sans CJK SC', 'WenQuanYi Zen Hei', sans-serif" letter-spacing="-0.63" fill="#111">磷灰石</text>
<text x="675.50" y="559.00" font-size="22" font-family="'Liberation Sans', Arial, sans-serif" letter-spacing="0.00" fill="#111">Sr</text>
<text x="697.57" y="557.90" font-size="20.8" font-family="'Liberation Sans', 'Noto Sans CJK SC', 'WenQuanYi Zen Hei', sans-serif" letter-spacing="-0.56" fill="#111">同位素</text>
<text x="648.39" y="714.90" font-size="20.8" font-family="'Liberation Sans', 'Noto Sans CJK SC', 'WenQuanYi Zen Hei', sans-serif" letter-spacing="0.62" fill="#111">柱沸石</text>
<text x="711.70" y="714.40" font-size="22" font-family="'Liberation Sans', Arial, sans-serif" letter-spacing="-1.44" fill="#111">Sr–Nd</text>
<text x="648.00" y="738.70" font-size="20.4" font-family="'Liberation Sans', 'Noto Sans CJK SC', 'WenQuanYi Zen Hei', sans-serif" letter-spacing="0.01" fill="#111">同位素组成</text>
<line x1="697.00" y1="689.30" x2="697.00" y2="633.50" stroke="#111" stroke-width="1.6"/>
<polyline points="701.87,645.55 697.00,633.50 692.13,645.55" fill="none" stroke="#111" stroke-width="1.6"/>
<text transform="translate(329.50,807.71) rotate(-90)" x="0" y="0" font-size="21" font-family="'Liberation Sans', 'Noto Sans CJK SC', 'WenQuanYi Zen Hei', sans-serif" letter-spacing="0.78" fill="#111">绿帘石</text>
<text transform="translate(328.90,742.70) rotate(-90)" x="0" y="0" font-size="22" font-family="'Liberation Sans', Arial, sans-serif" letter-spacing="0.00" fill="#111">Sr</text>
<text transform="translate(354.60,808.85) rotate(-90)" x="0" y="0" font-size="21" font-family="'Liberation Sans', 'Noto Sans CJK SC', 'WenQuanYi Zen Hei', sans-serif" letter-spacing="0.10" fill="#111">同位素组成</text>
<path d="M304,596.8 L637.7,596.8 L637.7,577.6 L688.4,613.0 L637.7,646.5 L637.7,628.8 L304,628.8 L316,612.8 Z" fill="#D2D0D8" stroke="#111" stroke-width="2"/>
<circle cx="309.30" cy="603.90" r="6.1" fill="#C364AC" stroke="#8E4A80" stroke-width="0.9"/>
<path d="M308.6,586.6 L581,777 L592.6,760.2 L615.2,819 L552.7,817.3 L562.4,804.9 L290,612.4 L317.4,612.2 Z" fill="#E8E8E8" stroke="#111" stroke-width="2"/>
<text x="0.00" y="0.00" font-size="20.3" font-family="'Liberation Sans', 'Noto Sans CJK SC', 'WenQuanYi Zen Hei', sans-serif" text-anchor="start" fill="#111" transform="translate(413.3,689.3) rotate(35.4)" letter-spacing="0.7">地壳混染趋势线</text>
<line x1="362.80" y1="528.00" x2="362.80" y2="838.50" stroke="#D66C3B" stroke-width="2.2" />
<path d="M332.40,609.00 L340.00,616.60 L332.40,624.20 L324.80,616.60 Z" fill="#C364AC" stroke="#8E4A80" stroke-width="0.9"/>
<line x1="455.00" y1="595.00" x2="486.00" y2="595.00" stroke="#6DC25E" stroke-width="1.6" />
<line x1="470.00" y1="575.00" x2="470.00" y2="625.00" stroke="#6DC25E" stroke-width="1.6" />
<line x1="455.00" y1="588.70" x2="455.00" y2="601.30" stroke="#6DC25E" stroke-width="1.6" />
<line x1="486.00" y1="588.70" x2="486.00" y2="601.30" stroke="#6DC25E" stroke-width="1.6" />
<line x1="463.70" y1="575.00" x2="476.30" y2="575.00" stroke="#6DC25E" stroke-width="1.6" />
<line x1="463.70" y1="625.00" x2="476.30" y2="625.00" stroke="#6DC25E" stroke-width="1.6" />
<line x1="540.00" y1="585.00" x2="570.00" y2="585.00" stroke="#6DC25E" stroke-width="1.6" />
<line x1="555.00" y1="565.00" x2="555.00" y2="612.00" stroke="#6DC25E" stroke-width="1.6" />
<line x1="540.00" y1="578.70" x2="540.00" y2="591.30" stroke="#6DC25E" stroke-width="1.6" />
<line x1="570.00" y1="578.70" x2="570.00" y2="591.30" stroke="#6DC25E" stroke-width="1.6" />
<line x1="548.70" y1="565.00" x2="561.30" y2="565.00" stroke="#6DC25E" stroke-width="1.6" />
<line x1="548.70" y1="612.00" x2="561.30" y2="612.00" stroke="#6DC25E" stroke-width="1.6" />
<line x1="392.60" y1="625.20" x2="421.60" y2="625.20" stroke="#6DC25E" stroke-width="1.6" />
<line x1="406.10" y1="602.30" x2="406.10" y2="647.80" stroke="#6DC25E" stroke-width="1.6" />
<line x1="392.60" y1="618.90" x2="392.60" y2="631.50" stroke="#6DC25E" stroke-width="1.6" />
<line x1="421.60" y1="618.90" x2="421.60" y2="631.50" stroke="#6DC25E" stroke-width="1.6" />
<line x1="399.80" y1="602.30" x2="412.40" y2="602.30" stroke="#6DC25E" stroke-width="1.6" />
<line x1="399.80" y1="647.80" x2="412.40" y2="647.80" stroke="#6DC25E" stroke-width="1.6" />
<line x1="417.70" y1="603.30" x2="455.00" y2="603.30" stroke="#6DC25E" stroke-width="1.6" />
<line x1="436.50" y1="569.90" x2="436.50" y2="636.80" stroke="#6DC25E" stroke-width="1.6" />
<line x1="417.70" y1="597.00" x2="417.70" y2="609.60" stroke="#6DC25E" stroke-width="1.6" />
<line x1="455.00" y1="597.00" x2="455.00" y2="609.60" stroke="#6DC25E" stroke-width="1.6" />
<line x1="430.20" y1="569.90" x2="442.80" y2="569.90" stroke="#6DC25E" stroke-width="1.6" />
<line x1="430.20" y1="636.80" x2="442.80" y2="636.80" stroke="#6DC25E" stroke-width="1.6" />
<line x1="433.00" y1="586.50" x2="470.00" y2="586.50" stroke="#6DC25E" stroke-width="1.6" />
<line x1="451.50" y1="568.00" x2="451.50" y2="605.00" stroke="#6DC25E" stroke-width="1.6" />
<line x1="433.00" y1="580.20" x2="433.00" y2="592.80" stroke="#6DC25E" stroke-width="1.6" />
<line x1="470.00" y1="580.20" x2="470.00" y2="592.80" stroke="#6DC25E" stroke-width="1.6" />
<line x1="445.20" y1="568.00" x2="457.80" y2="568.00" stroke="#6DC25E" stroke-width="1.6" />
<line x1="445.20" y1="605.00" x2="457.80" y2="605.00" stroke="#6DC25E" stroke-width="1.6" />
<line x1="445.00" y1="586.90" x2="478.00" y2="586.90" stroke="#6DC25E" stroke-width="1.6" />
<line x1="463.10" y1="570.00" x2="463.10" y2="604.00" stroke="#6DC25E" stroke-width="1.6" />
<line x1="445.00" y1="580.60" x2="445.00" y2="593.20" stroke="#6DC25E" stroke-width="1.6" />
<line x1="478.00" y1="580.60" x2="478.00" y2="593.20" stroke="#6DC25E" stroke-width="1.6" />
<line x1="456.80" y1="570.00" x2="469.40" y2="570.00" stroke="#6DC25E" stroke-width="1.6" />
<line x1="456.80" y1="604.00" x2="469.40" y2="604.00" stroke="#6DC25E" stroke-width="1.6" />
<line x1="465.00" y1="579.50" x2="498.00" y2="579.50" stroke="#6DC25E" stroke-width="1.6" />
<line x1="481.50" y1="545.30" x2="481.50" y2="612.00" stroke="#6DC25E" stroke-width="1.6" />
<line x1="465.00" y1="573.20" x2="465.00" y2="585.80" stroke="#6DC25E" stroke-width="1.6" />
<line x1="498.00" y1="573.20" x2="498.00" y2="585.80" stroke="#6DC25E" stroke-width="1.6" />
<line x1="475.20" y1="545.30" x2="487.80" y2="545.30" stroke="#6DC25E" stroke-width="1.6" />
<line x1="475.20" y1="612.00" x2="487.80" y2="612.00" stroke="#6DC25E" stroke-width="1.6" />
<line x1="462.00" y1="602.30" x2="495.00" y2="602.30" stroke="#6DC25E" stroke-width="1.6" />
<line x1="478.60" y1="585.00" x2="478.60" y2="620.00" stroke="#6DC25E" stroke-width="1.6" />
<line x1="462.00" y1="596.00" x2="462.00" y2="608.60" stroke="#6DC25E" stroke-width="1.6" />
<line x1="495.00" y1="596.00" x2="495.00" y2="608.60" stroke="#6DC25E" stroke-width="1.6" />
<line x1="472.30" y1="585.00" x2="484.90" y2="585.00" stroke="#6DC25E" stroke-width="1.6" />
<line x1="472.30" y1="620.00" x2="484.90" y2="620.00" stroke="#6DC25E" stroke-width="1.6" />
<line x1="478.00" y1="582.00" x2="510.00" y2="582.00" stroke="#6DC25E" stroke-width="1.6" />
<line x1="494.00" y1="541.40" x2="494.00" y2="615.00" stroke="#6DC25E" stroke-width="1.6" />
<line x1="478.00" y1="575.70" x2="478.00" y2="588.30" stroke="#6DC25E" stroke-width="1.6" />
<line x1="510.00" y1="575.70" x2="510.00" y2="588.30" stroke="#6DC25E" stroke-width="1.6" />
<line x1="487.70" y1="541.40" x2="500.30" y2="541.40" stroke="#6DC25E" stroke-width="1.6" />
<line x1="487.70" y1="615.00" x2="500.30" y2="615.00" stroke="#6DC25E" stroke-width="1.6" />
<line x1="488.00" y1="574.90" x2="520.00" y2="574.90" stroke="#6DC25E" stroke-width="1.6" />
<line x1="503.70" y1="541.40" x2="503.70" y2="608.00" stroke="#6DC25E" stroke-width="1.6" />
<line x1="488.00" y1="568.60" x2="488.00" y2="581.20" stroke="#6DC25E" stroke-width="1.6" />
<line x1="520.00" y1="568.60" x2="520.00" y2="581.20" stroke="#6DC25E" stroke-width="1.6" />
<line x1="497.40" y1="541.40" x2="510.00" y2="541.40" stroke="#6DC25E" stroke-width="1.6" />
<line x1="497.40" y1="608.00" x2="510.00" y2="608.00" stroke="#6DC25E" stroke-width="1.6" />
<line x1="488.00" y1="586.90" x2="520.00" y2="586.90" stroke="#6DC25E" stroke-width="1.6" />
<line x1="503.70" y1="565.00" x2="503.70" y2="610.00" stroke="#6DC25E" stroke-width="1.6" />
<line x1="488.00" y1="580.60" x2="488.00" y2="593.20" stroke="#6DC25E" stroke-width="1.6" />
<line x1="520.00" y1="580.60" x2="520.00" y2="593.20" stroke="#6DC25E" stroke-width="1.6" />
<line x1="497.40" y1="565.00" x2="510.00" y2="565.00" stroke="#6DC25E" stroke-width="1.6" />
<line x1="497.40" y1="610.00" x2="510.00" y2="610.00" stroke="#6DC25E" stroke-width="1.6" />
<line x1="498.00" y1="587.80" x2="530.00" y2="587.80" stroke="#6DC25E" stroke-width="1.6" />
<line x1="513.40" y1="565.00" x2="513.40" y2="612.00" stroke="#6DC25E" stroke-width="1.6" />
<line x1="498.00" y1="581.50" x2="498.00" y2="594.10" stroke="#6DC25E" stroke-width="1.6" />
<line x1="530.00" y1="581.50" x2="530.00" y2="594.10" stroke="#6DC25E" stroke-width="1.6" />
<line x1="507.10" y1="565.00" x2="519.70" y2="565.00" stroke="#6DC25E" stroke-width="1.6" />
<line x1="507.10" y1="612.00" x2="519.70" y2="612.00" stroke="#6DC25E" stroke-width="1.6" />
<line x1="514.00" y1="587.80" x2="546.00" y2="587.80" stroke="#6DC25E" stroke-width="1.6" />
<line x1="529.80" y1="560.00" x2="529.80" y2="614.00" stroke="#6DC25E" stroke-width="1.6" />
<line x1="514.00" y1="581.50" x2="514.00" y2="594.10" stroke="#6DC25E" stroke-width="1.6" />
<line x1="546.00" y1="581.50" x2="546.00" y2="594.10" stroke="#6DC25E" stroke-width="1.6" />
<line x1="523.50" y1="560.00" x2="536.10" y2="560.00" stroke="#6DC25E" stroke-width="1.6" />
<line x1="523.50" y1="614.00" x2="536.10" y2="614.00" stroke="#6DC25E" stroke-width="1.6" />
<line x1="519.00" y1="582.60" x2="550.00" y2="582.60" stroke="#6DC25E" stroke-width="1.6" />
<line x1="534.70" y1="560.00" x2="534.70" y2="605.00" stroke="#6DC25E" stroke-width="1.6" />
<line x1="519.00" y1="576.30" x2="519.00" y2="588.90" stroke="#6DC25E" stroke-width="1.6" />
<line x1="550.00" y1="576.30" x2="550.00" y2="588.90" stroke="#6DC25E" stroke-width="1.6" />
<line x1="528.40" y1="560.00" x2="541.00" y2="560.00" stroke="#6DC25E" stroke-width="1.6" />
<line x1="528.40" y1="605.00" x2="541.00" y2="605.00" stroke="#6DC25E" stroke-width="1.6" />
<line x1="486.00" y1="626.50" x2="520.00" y2="626.50" stroke="#6DC25E" stroke-width="1.6" />
<line x1="502.80" y1="605.00" x2="502.80" y2="664.00" stroke="#6DC25E" stroke-width="1.6" />
<line x1="486.00" y1="620.20" x2="486.00" y2="632.80" stroke="#6DC25E" stroke-width="1.6" />
<line x1="520.00" y1="620.20" x2="520.00" y2="632.80" stroke="#6DC25E" stroke-width="1.6" />
<line x1="496.50" y1="605.00" x2="509.10" y2="605.00" stroke="#6DC25E" stroke-width="1.6" />
<line x1="496.50" y1="664.00" x2="509.10" y2="664.00" stroke="#6DC25E" stroke-width="1.6" />
<line x1="576.00" y1="577.50" x2="610.00" y2="577.50" stroke="#6DC25E" stroke-width="1.6" />
<line x1="592.50" y1="553.00" x2="592.50" y2="600.00" stroke="#6DC25E" stroke-width="1.6" />
<line x1="576.00" y1="571.20" x2="576.00" y2="583.80" stroke="#6DC25E" stroke-width="1.6" />
<line x1="610.00" y1="571.20" x2="610.00" y2="583.80" stroke="#6DC25E" stroke-width="1.6" />
<line x1="586.20" y1="553.00" x2="598.80" y2="553.00" stroke="#6DC25E" stroke-width="1.6" />
<line x1="586.20" y1="600.00" x2="598.80" y2="600.00" stroke="#6DC25E" stroke-width="1.6" />
<line x1="578.00" y1="589.00" x2="610.00" y2="589.00" stroke="#6DC25E" stroke-width="1.6" />
<line x1="594.00" y1="565.00" x2="594.00" y2="612.00" stroke="#6DC25E" stroke-width="1.6" />
<line x1="578.00" y1="582.70" x2="578.00" y2="595.30" stroke="#6DC25E" stroke-width="1.6" />
<line x1="610.00" y1="582.70" x2="610.00" y2="595.30" stroke="#6DC25E" stroke-width="1.6" />
<line x1="587.70" y1="565.00" x2="600.30" y2="565.00" stroke="#6DC25E" stroke-width="1.6" />
<line x1="587.70" y1="612.00" x2="600.30" y2="612.00" stroke="#6DC25E" stroke-width="1.6" />
<line x1="588.00" y1="587.00" x2="620.00" y2="587.00" stroke="#6DC25E" stroke-width="1.6" />
<line x1="604.00" y1="560.50" x2="604.00" y2="612.00" stroke="#6DC25E" stroke-width="1.6" />
<line x1="588.00" y1="580.70" x2="588.00" y2="593.30" stroke="#6DC25E" stroke-width="1.6" />
<line x1="620.00" y1="580.70" x2="620.00" y2="593.30" stroke="#6DC25E" stroke-width="1.6" />
<line x1="597.70" y1="560.50" x2="610.30" y2="560.50" stroke="#6DC25E" stroke-width="1.6" />
<line x1="597.70" y1="612.00" x2="610.30" y2="612.00" stroke="#6DC25E" stroke-width="1.6" />
<line x1="572.00" y1="601.00" x2="604.00" y2="601.00" stroke="#6DC25E" stroke-width="1.6" />
<line x1="588.00" y1="580.00" x2="588.00" y2="622.00" stroke="#6DC25E" stroke-width="1.6" />
<line x1="572.00" y1="594.70" x2="572.00" y2="607.30" stroke="#6DC25E" stroke-width="1.6" />
<line x1="604.00" y1="594.70" x2="604.00" y2="607.30" stroke="#6DC25E" stroke-width="1.6" />
<line x1="581.70" y1="580.00" x2="594.30" y2="580.00" stroke="#6DC25E" stroke-width="1.6" />
<line x1="581.70" y1="622.00" x2="594.30" y2="622.00" stroke="#6DC25E" stroke-width="1.6" />
<line x1="584.00" y1="612.00" x2="616.00" y2="612.00" stroke="#6DC25E" stroke-width="1.6" />
<line x1="600.00" y1="590.00" x2="600.00" y2="655.00" stroke="#6DC25E" stroke-width="1.6" />
<line x1="584.00" y1="605.70" x2="584.00" y2="618.30" stroke="#6DC25E" stroke-width="1.6" />
<line x1="616.00" y1="605.70" x2="616.00" y2="618.30" stroke="#6DC25E" stroke-width="1.6" />
<line x1="593.70" y1="590.00" x2="606.30" y2="590.00" stroke="#6DC25E" stroke-width="1.6" />
<line x1="593.70" y1="655.00" x2="606.30" y2="655.00" stroke="#6DC25E" stroke-width="1.6" />
<line x1="642.00" y1="597.70" x2="676.00" y2="597.70" stroke="#6DC25E" stroke-width="1.6" />
<line x1="658.50" y1="577.00" x2="658.50" y2="620.00" stroke="#6DC25E" stroke-width="1.6" />
<line x1="642.00" y1="591.40" x2="642.00" y2="604.00" stroke="#6DC25E" stroke-width="1.6" />
<line x1="676.00" y1="591.40" x2="676.00" y2="604.00" stroke="#6DC25E" stroke-width="1.6" />
<line x1="652.20" y1="577.00" x2="664.80" y2="577.00" stroke="#6DC25E" stroke-width="1.6" />
<line x1="652.20" y1="620.00" x2="664.80" y2="620.00" stroke="#6DC25E" stroke-width="1.6" />
<line x1="622.00" y1="619.80" x2="654.00" y2="619.80" stroke="#6DC25E" stroke-width="1.6" />
<line x1="637.50" y1="598.00" x2="637.50" y2="650.00" stroke="#6DC25E" stroke-width="1.6" />
<line x1="622.00" y1="613.50" x2="622.00" y2="626.10" stroke="#6DC25E" stroke-width="1.6" />
<line x1="654.00" y1="613.50" x2="654.00" y2="626.10" stroke="#6DC25E" stroke-width="1.6" />
<line x1="631.20" y1="598.00" x2="643.80" y2="598.00" stroke="#6DC25E" stroke-width="1.6" />
<line x1="631.20" y1="650.00" x2="643.80" y2="650.00" stroke="#6DC25E" stroke-width="1.6" />
<line x1="560.00" y1="603.00" x2="592.00" y2="603.00" stroke="#6DC25E" stroke-width="1.6" />
<line x1="576.00" y1="585.00" x2="576.00" y2="622.00" stroke="#6DC25E" stroke-width="1.6" />
<line x1="560.00" y1="596.70" x2="560.00" y2="609.30" stroke="#6DC25E" stroke-width="1.6" />
<line x1="592.00" y1="596.70" x2="592.00" y2="609.30" stroke="#6DC25E" stroke-width="1.6" />
<line x1="569.70" y1="585.00" x2="582.30" y2="585.00" stroke="#6DC25E" stroke-width="1.6" />
<line x1="569.70" y1="622.00" x2="582.30" y2="622.00" stroke="#6DC25E" stroke-width="1.6" />
<line x1="504.00" y1="597.00" x2="536.00" y2="597.00" stroke="#6DC25E" stroke-width="1.6" />
<line x1="520.00" y1="578.00" x2="520.00" y2="618.00" stroke="#6DC25E" stroke-width="1.6" />
<line x1="504.00" y1="590.70" x2="504.00" y2="603.30" stroke="#6DC25E" stroke-width="1.6" />
<line x1="536.00" y1="590.70" x2="536.00" y2="603.30" stroke="#6DC25E" stroke-width="1.6" />
<line x1="513.70" y1="578.00" x2="526.30" y2="578.00" stroke="#6DC25E" stroke-width="1.6" />
<line x1="513.70" y1="618.00" x2="526.30" y2="618.00" stroke="#6DC25E" stroke-width="1.6" />
<line x1="530.00" y1="600.00" x2="560.00" y2="600.00" stroke="#6DC25E" stroke-width="1.6" />
<line x1="545.00" y1="580.00" x2="545.00" y2="620.00" stroke="#6DC25E" stroke-width="1.6" />
<line x1="530.00" y1="593.70" x2="530.00" y2="606.30" stroke="#6DC25E" stroke-width="1.6" />
<line x1="560.00" y1="593.70" x2="560.00" y2="606.30" stroke="#6DC25E" stroke-width="1.6" />
<line x1="538.70" y1="580.00" x2="551.30" y2="580.00" stroke="#6DC25E" stroke-width="1.6" />
<line x1="538.70" y1="620.00" x2="551.30" y2="620.00" stroke="#6DC25E" stroke-width="1.6" />
<line x1="550.00" y1="590.00" x2="580.00" y2="590.00" stroke="#6DC25E" stroke-width="1.6" />
<line x1="565.00" y1="570.00" x2="565.00" y2="610.00" stroke="#6DC25E" stroke-width="1.6" />
<line x1="550.00" y1="583.70" x2="550.00" y2="596.30" stroke="#6DC25E" stroke-width="1.6" />
<line x1="580.00" y1="583.70" x2="580.00" y2="596.30" stroke="#6DC25E" stroke-width="1.6" />
<line x1="558.70" y1="570.00" x2="571.30" y2="570.00" stroke="#6DC25E" stroke-width="1.6" />
<line x1="558.70" y1="610.00" x2="571.30" y2="610.00" stroke="#6DC25E" stroke-width="1.6" />
<line x1="604.00" y1="600.00" x2="636.00" y2="600.00" stroke="#6DC25E" stroke-width="1.6" />
<line x1="620.00" y1="580.00" x2="620.00" y2="620.00" stroke="#6DC25E" stroke-width="1.6" />
<line x1="604.00" y1="593.70" x2="604.00" y2="606.30" stroke="#6DC25E" stroke-width="1.6" />
<line x1="636.00" y1="593.70" x2="636.00" y2="606.30" stroke="#6DC25E" stroke-width="1.6" />
<line x1="613.70" y1="580.00" x2="626.30" y2="580.00" stroke="#6DC25E" stroke-width="1.6" />
<line x1="613.70" y1="620.00" x2="626.30" y2="620.00" stroke="#6DC25E" stroke-width="1.6" />
<line x1="475.00" y1="605.00" x2="505.00" y2="605.00" stroke="#6DC25E" stroke-width="1.6" />
<line x1="490.00" y1="585.00" x2="490.00" y2="625.00" stroke="#6DC25E" stroke-width="1.6" />
<line x1="475.00" y1="598.70" x2="475.00" y2="611.30" stroke="#6DC25E" stroke-width="1.6" />
<line x1="505.00" y1="598.70" x2="505.00" y2="611.30" stroke="#6DC25E" stroke-width="1.6" />
<line x1="483.70" y1="585.00" x2="496.30" y2="585.00" stroke="#6DC25E" stroke-width="1.6" />
<line x1="483.70" y1="625.00" x2="496.30" y2="625.00" stroke="#6DC25E" stroke-width="1.6" />
<circle cx="406.10" cy="625.20" r="5.8" fill="#62BE52" stroke="#2F6B2A" stroke-width="0.9"/>
<circle cx="436.50" cy="603.30" r="5.8" fill="#62BE52" stroke="#2F6B2A" stroke-width="0.9"/>
<circle cx="451.50" cy="586.50" r="5.8" fill="#62BE52" stroke="#2F6B2A" stroke-width="0.9"/>
<circle cx="463.10" cy="586.90" r="5.8" fill="#62BE52" stroke="#2F6B2A" stroke-width="0.9"/>
<circle cx="481.50" cy="579.50" r="5.8" fill="#62BE52" stroke="#2F6B2A" stroke-width="0.9"/>
<circle cx="478.60" cy="602.30" r="5.8" fill="#62BE52" stroke="#2F6B2A" stroke-width="0.9"/>
<circle cx="494.00" cy="582.00" r="5.8" fill="#62BE52" stroke="#2F6B2A" stroke-width="0.9"/>
<circle cx="503.70" cy="574.90" r="5.8" fill="#62BE52" stroke="#2F6B2A" stroke-width="0.9"/>
<circle cx="503.70" cy="586.90" r="5.8" fill="#62BE52" stroke="#2F6B2A" stroke-width="0.9"/>
<circle cx="513.40" cy="587.80" r="5.8" fill="#62BE52" stroke="#2F6B2A" stroke-width="0.9"/>
<circle cx="529.80" cy="587.80" r="5.8" fill="#62BE52" stroke="#2F6B2A" stroke-width="0.9"/>
<circle cx="534.70" cy="582.60" r="5.8" fill="#62BE52" stroke="#2F6B2A" stroke-width="0.9"/>
<circle cx="502.80" cy="626.50" r="5.8" fill="#62BE52" stroke="#2F6B2A" stroke-width="0.9"/>
<circle cx="592.50" cy="577.50" r="5.8" fill="#62BE52" stroke="#2F6B2A" stroke-width="0.9"/>
<circle cx="594.00" cy="589.00" r="5.8" fill="#62BE52" stroke="#2F6B2A" stroke-width="0.9"/>
<circle cx="604.00" cy="587.00" r="5.8" fill="#62BE52" stroke="#2F6B2A" stroke-width="0.9"/>
<circle cx="588.00" cy="601.00" r="5.8" fill="#62BE52" stroke="#2F6B2A" stroke-width="0.9"/>
<circle cx="600.00" cy="612.00" r="5.8" fill="#62BE52" stroke="#2F6B2A" stroke-width="0.9"/>
<circle cx="658.50" cy="597.70" r="5.8" fill="#62BE52" stroke="#2F6B2A" stroke-width="0.9"/>
<circle cx="637.50" cy="619.80" r="5.8" fill="#62BE52" stroke="#2F6B2A" stroke-width="0.9"/>
<circle cx="576.00" cy="603.00" r="5.8" fill="#62BE52" stroke="#2F6B2A" stroke-width="0.9"/>
<circle cx="520.00" cy="597.00" r="5.8" fill="#62BE52" stroke="#2F6B2A" stroke-width="0.9"/>
<circle cx="545.00" cy="600.00" r="5.8" fill="#62BE52" stroke="#2F6B2A" stroke-width="0.9"/>
<circle cx="565.00" cy="590.00" r="5.8" fill="#62BE52" stroke="#2F6B2A" stroke-width="0.9"/>
<circle cx="620.00" cy="600.00" r="5.8" fill="#62BE52" stroke="#2F6B2A" stroke-width="0.9"/>
<circle cx="490.00" cy="605.00" r="5.8" fill="#62BE52" stroke="#2F6B2A" stroke-width="0.9"/>
<line x1="482.90" y1="605.00" x2="527.10" y2="605.00" stroke="#7D559F" stroke-width="2.0" />
<line x1="505.00" y1="580.00" x2="505.00" y2="650.00" stroke="#7D559F" stroke-width="2.0" />
<line x1="482.90" y1="598.70" x2="482.90" y2="611.30" stroke="#7D559F" stroke-width="2.0" />
<line x1="527.10" y1="598.70" x2="527.10" y2="611.30" stroke="#7D559F" stroke-width="2.0" />
<line x1="498.70" y1="580.00" x2="511.30" y2="580.00" stroke="#7D559F" stroke-width="2.0" />
<line x1="498.70" y1="650.00" x2="511.30" y2="650.00" stroke="#7D559F" stroke-width="2.0" />
<line x1="516.60" y1="620.00" x2="563.40" y2="620.00" stroke="#7D559F" stroke-width="2.0" />
<line x1="540.00" y1="595.00" x2="540.00" y2="668.00" stroke="#7D559F" stroke-width="2.0" />
<line x1="516.60" y1="613.70" x2="516.60" y2="626.30" stroke="#7D559F" stroke-width="2.0" />
<line x1="563.40" y1="613.70" x2="563.40" y2="626.30" stroke="#7D559F" stroke-width="2.0" />
<line x1="533.70" y1="595.00" x2="546.30" y2="595.00" stroke="#7D559F" stroke-width="2.0" />
<line x1="533.70" y1="668.00" x2="546.30" y2="668.00" stroke="#7D559F" stroke-width="2.0" />
<line x1="569.20" y1="605.00" x2="610.80" y2="605.00" stroke="#7D559F" stroke-width="2.0" />
<line x1="590.00" y1="578.00" x2="590.00" y2="640.00" stroke="#7D559F" stroke-width="2.0" />
<line x1="569.20" y1="598.70" x2="569.20" y2="611.30" stroke="#7D559F" stroke-width="2.0" />
<line x1="610.80" y1="598.70" x2="610.80" y2="611.30" stroke="#7D559F" stroke-width="2.0" />
<line x1="583.70" y1="578.00" x2="596.30" y2="578.00" stroke="#7D559F" stroke-width="2.0" />
<line x1="583.70" y1="640.00" x2="596.30" y2="640.00" stroke="#7D559F" stroke-width="2.0" />
<line x1="595.50" y1="615.00" x2="637.10" y2="615.00" stroke="#7D559F" stroke-width="2.0" />
<line x1="615.00" y1="590.00" x2="615.00" y2="650.00" stroke="#7D559F" stroke-width="2.0" />
<line x1="595.50" y1="608.70" x2="595.50" y2="621.30" stroke="#7D559F" stroke-width="2.0" />
<line x1="637.10" y1="608.70" x2="637.10" y2="621.30" stroke="#7D559F" stroke-width="2.0" />
<line x1="608.70" y1="590.00" x2="621.30" y2="590.00" stroke="#7D559F" stroke-width="2.0" />
<line x1="608.70" y1="650.00" x2="621.30" y2="650.00" stroke="#7D559F" stroke-width="2.0" />
<line x1="500.50" y1="600.00" x2="539.50" y2="600.00" stroke="#7D559F" stroke-width="2.0" />
<line x1="520.00" y1="575.00" x2="520.00" y2="660.00" stroke="#7D559F" stroke-width="2.0" />
<line x1="500.50" y1="593.70" x2="500.50" y2="606.30" stroke="#7D559F" stroke-width="2.0" />
<line x1="539.50" y1="593.70" x2="539.50" y2="606.30" stroke="#7D559F" stroke-width="2.0" />
<line x1="513.70" y1="575.00" x2="526.30" y2="575.00" stroke="#7D559F" stroke-width="2.0" />
<line x1="513.70" y1="660.00" x2="526.30" y2="660.00" stroke="#7D559F" stroke-width="2.0" />
<line x1="542.90" y1="600.00" x2="587.10" y2="600.00" stroke="#7D559F" stroke-width="2.0" />
<line x1="565.00" y1="575.00" x2="565.00" y2="672.00" stroke="#7D559F" stroke-width="2.0" />
<line x1="542.90" y1="593.70" x2="542.90" y2="606.30" stroke="#7D559F" stroke-width="2.0" />
<line x1="587.10" y1="593.70" x2="587.10" y2="606.30" stroke="#7D559F" stroke-width="2.0" />
<line x1="558.70" y1="575.00" x2="571.30" y2="575.00" stroke="#7D559F" stroke-width="2.0" />
<line x1="558.70" y1="672.00" x2="571.30" y2="672.00" stroke="#7D559F" stroke-width="2.0" />
<line x1="471.31" y1="589.80" x2="503.81" y2="589.80" stroke="#7D559F" stroke-width="2.1" />
<line x1="487.30" y1="562.50" x2="487.30" y2="615.00" stroke="#7D559F" stroke-width="2.1" />
<line x1="471.31" y1="583.50" x2="471.31" y2="596.10" stroke="#7D559F" stroke-width="2.1" />
<line x1="503.81" y1="583.50" x2="503.81" y2="596.10" stroke="#7D559F" stroke-width="2.1" />
<line x1="481.00" y1="562.50" x2="493.60" y2="562.50" stroke="#7D559F" stroke-width="2.1" />
<line x1="481.00" y1="615.00" x2="493.60" y2="615.00" stroke="#7D559F" stroke-width="2.1" />
<line x1="478.37" y1="594.60" x2="509.57" y2="594.60" stroke="#7D559F" stroke-width="2.1" />
<line x1="494.10" y1="559.00" x2="494.10" y2="620.00" stroke="#7D559F" stroke-width="2.1" />
<line x1="478.37" y1="588.30" x2="478.37" y2="600.90" stroke="#7D559F" stroke-width="2.1" />
<line x1="509.57" y1="588.30" x2="509.57" y2="600.90" stroke="#7D559F" stroke-width="2.1" />
<line x1="487.80" y1="559.00" x2="500.40" y2="559.00" stroke="#7D559F" stroke-width="2.1" />
<line x1="487.80" y1="620.00" x2="500.40" y2="620.00" stroke="#7D559F" stroke-width="2.1" />
<line x1="493.95" y1="615.90" x2="529.05" y2="615.90" stroke="#7D559F" stroke-width="2.1" />
<line x1="511.50" y1="592.00" x2="511.50" y2="640.00" stroke="#7D559F" stroke-width="2.1" />
<line x1="493.95" y1="609.60" x2="493.95" y2="622.20" stroke="#7D559F" stroke-width="2.1" />
<line x1="529.05" y1="609.60" x2="529.05" y2="622.20" stroke="#7D559F" stroke-width="2.1" />
<line x1="505.20" y1="592.00" x2="517.80" y2="592.00" stroke="#7D559F" stroke-width="2.1" />
<line x1="505.20" y1="640.00" x2="517.80" y2="640.00" stroke="#7D559F" stroke-width="2.1" />
<line x1="500.74" y1="611.00" x2="535.84" y2="611.00" stroke="#7D559F" stroke-width="2.1" />
<line x1="519.20" y1="585.00" x2="519.20" y2="635.00" stroke="#7D559F" stroke-width="2.1" />
<line x1="500.74" y1="604.70" x2="500.74" y2="617.30" stroke="#7D559F" stroke-width="2.1" />
<line x1="535.84" y1="604.70" x2="535.84" y2="617.30" stroke="#7D559F" stroke-width="2.1" />
<line x1="512.90" y1="585.00" x2="525.50" y2="585.00" stroke="#7D559F" stroke-width="2.1" />
<line x1="512.90" y1="635.00" x2="525.50" y2="635.00" stroke="#7D559F" stroke-width="2.1" />
<line x1="506.07" y1="626.50" x2="539.87" y2="626.50" stroke="#7D559F" stroke-width="2.1" />
<line x1="523.10" y1="600.00" x2="523.10" y2="655.00" stroke="#7D559F" stroke-width="2.1" />
<line x1="506.07" y1="620.20" x2="506.07" y2="632.80" stroke="#7D559F" stroke-width="2.1" />
<line x1="539.87" y1="620.20" x2="539.87" y2="632.80" stroke="#7D559F" stroke-width="2.1" />
<line x1="516.80" y1="600.00" x2="529.40" y2="600.00" stroke="#7D559F" stroke-width="2.1" />
<line x1="516.80" y1="655.00" x2="529.40" y2="655.00" stroke="#7D559F" stroke-width="2.1" />
<line x1="473.77" y1="635.20" x2="510.17" y2="635.20" stroke="#7D559F" stroke-width="2.1" />
<line x1="492.10" y1="610.00" x2="492.10" y2="670.00" stroke="#7D559F" stroke-width="2.1" />
<line x1="473.77" y1="628.90" x2="473.77" y2="641.50" stroke="#7D559F" stroke-width="2.1" />
<line x1="510.17" y1="628.90" x2="510.17" y2="641.50" stroke="#7D559F" stroke-width="2.1" />
<line x1="485.80" y1="610.00" x2="498.40" y2="610.00" stroke="#7D559F" stroke-width="2.1" />
<line x1="485.80" y1="670.00" x2="498.40" y2="670.00" stroke="#7D559F" stroke-width="2.1" />
<line x1="479.83" y1="638.10" x2="514.93" y2="638.10" stroke="#7D559F" stroke-width="2.1" />
<line x1="497.90" y1="612.00" x2="497.90" y2="664.00" stroke="#7D559F" stroke-width="2.1" />
<line x1="479.83" y1="631.80" x2="479.83" y2="644.40" stroke="#7D559F" stroke-width="2.1" />
<line x1="514.93" y1="631.80" x2="514.93" y2="644.40" stroke="#7D559F" stroke-width="2.1" />
<line x1="491.60" y1="612.00" x2="504.20" y2="612.00" stroke="#7D559F" stroke-width="2.1" />
<line x1="491.60" y1="664.00" x2="504.20" y2="664.00" stroke="#7D559F" stroke-width="2.1" />
<line x1="510.10" y1="636.20" x2="543.90" y2="636.20" stroke="#7D559F" stroke-width="2.1" />
<line x1="527.00" y1="610.00" x2="527.00" y2="676.00" stroke="#7D559F" stroke-width="2.1" />
<line x1="510.10" y1="629.90" x2="510.10" y2="642.50" stroke="#7D559F" stroke-width="2.1" />
<line x1="543.90" y1="629.90" x2="543.90" y2="642.50" stroke="#7D559F" stroke-width="2.1" />
<line x1="520.70" y1="610.00" x2="533.30" y2="610.00" stroke="#7D559F" stroke-width="2.1" />
<line x1="520.70" y1="676.00" x2="533.30" y2="676.00" stroke="#7D559F" stroke-width="2.1" />
<line x1="517.92" y1="642.90" x2="553.02" y2="642.90" stroke="#7D559F" stroke-width="2.1" />
<line x1="535.60" y1="616.00" x2="535.60" y2="681.60" stroke="#7D559F" stroke-width="2.1" />
<line x1="517.92" y1="636.60" x2="517.92" y2="649.20" stroke="#7D559F" stroke-width="2.1" />
<line x1="553.02" y1="636.60" x2="553.02" y2="649.20" stroke="#7D559F" stroke-width="2.1" />
<line x1="529.30" y1="616.00" x2="541.90" y2="616.00" stroke="#7D559F" stroke-width="2.1" />
<line x1="529.30" y1="681.60" x2="541.90" y2="681.60" stroke="#7D559F" stroke-width="2.1" />
<line x1="528.01" y1="636.20" x2="563.11" y2="636.20" stroke="#7D559F" stroke-width="2.1" />
<line x1="545.30" y1="610.00" x2="545.30" y2="676.00" stroke="#7D559F" stroke-width="2.1" />
<line x1="528.01" y1="629.90" x2="528.01" y2="642.50" stroke="#7D559F" stroke-width="2.1" />
<line x1="563.11" y1="629.90" x2="563.11" y2="642.50" stroke="#7D559F" stroke-width="2.1" />
<line x1="539.00" y1="610.00" x2="551.60" y2="610.00" stroke="#7D559F" stroke-width="2.1" />
<line x1="539.00" y1="676.00" x2="551.60" y2="676.00" stroke="#7D559F" stroke-width="2.1" />
<line x1="533.07" y1="650.70" x2="566.87" y2="650.70" stroke="#7D559F" stroke-width="2.1" />
<line x1="550.10" y1="625.00" x2="550.10" y2="685.50" stroke="#7D559F" stroke-width="2.1" />
<line x1="533.07" y1="644.40" x2="533.07" y2="657.00" stroke="#7D559F" stroke-width="2.1" />
<line x1="566.87" y1="644.40" x2="566.87" y2="657.00" stroke="#7D559F" stroke-width="2.1" />
<line x1="543.80" y1="625.00" x2="556.40" y2="625.00" stroke="#7D559F" stroke-width="2.1" />
<line x1="543.80" y1="685.50" x2="556.40" y2="685.50" stroke="#7D559F" stroke-width="2.1" />
<line x1="533.07" y1="611.00" x2="566.87" y2="611.00" stroke="#7D559F" stroke-width="2.1" />
<line x1="550.10" y1="585.00" x2="550.10" y2="640.00" stroke="#7D559F" stroke-width="2.1" />
<line x1="533.07" y1="604.70" x2="533.07" y2="617.30" stroke="#7D559F" stroke-width="2.1" />
<line x1="566.87" y1="604.70" x2="566.87" y2="617.30" stroke="#7D559F" stroke-width="2.1" />
<line x1="543.80" y1="585.00" x2="556.40" y2="585.00" stroke="#7D559F" stroke-width="2.1" />
<line x1="543.80" y1="640.00" x2="556.40" y2="640.00" stroke="#7D559F" stroke-width="2.1" />
<line x1="536.10" y1="597.50" x2="569.90" y2="597.50" stroke="#7D559F" stroke-width="2.1" />
<line x1="553.00" y1="564.50" x2="553.00" y2="630.00" stroke="#7D559F" stroke-width="2.1" />
<line x1="536.10" y1="591.20" x2="536.10" y2="603.80" stroke="#7D559F" stroke-width="2.1" />
<line x1="569.90" y1="591.20" x2="569.90" y2="603.80" stroke="#7D559F" stroke-width="2.1" />
<line x1="546.70" y1="564.50" x2="559.30" y2="564.50" stroke="#7D559F" stroke-width="2.1" />
<line x1="546.70" y1="630.00" x2="559.30" y2="630.00" stroke="#7D559F" stroke-width="2.1" />
<line x1="544.16" y1="633.60" x2="577.96" y2="633.60" stroke="#7D559F" stroke-width="2.1" />
<line x1="560.80" y1="605.00" x2="560.80" y2="667.00" stroke="#7D559F" stroke-width="2.1" />
<line x1="544.16" y1="627.30" x2="544.16" y2="639.90" stroke="#7D559F" stroke-width="2.1" />
<line x1="577.96" y1="627.30" x2="577.96" y2="639.90" stroke="#7D559F" stroke-width="2.1" />
<line x1="554.50" y1="605.00" x2="567.10" y2="605.00" stroke="#7D559F" stroke-width="2.1" />
<line x1="554.50" y1="667.00" x2="567.10" y2="667.00" stroke="#7D559F" stroke-width="2.1" />
<line x1="552.04" y1="619.60" x2="585.84" y2="619.60" stroke="#7D559F" stroke-width="2.1" />
<line x1="569.20" y1="590.00" x2="569.20" y2="650.00" stroke="#7D559F" stroke-width="2.1" />
<line x1="552.04" y1="613.30" x2="552.04" y2="625.90" stroke="#7D559F" stroke-width="2.1" />
<line x1="585.84" y1="613.30" x2="585.84" y2="625.90" stroke="#7D559F" stroke-width="2.1" />
<line x1="562.90" y1="590.00" x2="575.50" y2="590.00" stroke="#7D559F" stroke-width="2.1" />
<line x1="562.90" y1="650.00" x2="575.50" y2="650.00" stroke="#7D559F" stroke-width="2.1" />
<line x1="555.98" y1="611.90" x2="589.78" y2="611.90" stroke="#7D559F" stroke-width="2.1" />
<line x1="573.40" y1="580.00" x2="573.40" y2="640.00" stroke="#7D559F" stroke-width="2.1" />
<line x1="555.98" y1="605.60" x2="555.98" y2="618.20" stroke="#7D559F" stroke-width="2.1" />
<line x1="589.78" y1="605.60" x2="589.78" y2="618.20" stroke="#7D559F" stroke-width="2.1" />
<line x1="567.10" y1="580.00" x2="579.70" y2="580.00" stroke="#7D559F" stroke-width="2.1" />
<line x1="567.10" y1="640.00" x2="579.70" y2="640.00" stroke="#7D559F" stroke-width="2.1" />
<line x1="567.13" y1="633.60" x2="600.93" y2="633.60" stroke="#7D559F" stroke-width="2.1" />
<line x1="583.90" y1="605.00" x2="583.90" y2="660.00" stroke="#7D559F" stroke-width="2.1" />
<line x1="567.13" y1="627.30" x2="567.13" y2="639.90" stroke="#7D559F" stroke-width="2.1" />
<line x1="600.93" y1="627.30" x2="600.93" y2="639.90" stroke="#7D559F" stroke-width="2.1" />
<line x1="577.60" y1="605.00" x2="590.20" y2="605.00" stroke="#7D559F" stroke-width="2.1" />
<line x1="577.60" y1="660.00" x2="590.20" y2="660.00" stroke="#7D559F" stroke-width="2.1" />
<line x1="567.13" y1="642.70" x2="600.93" y2="642.70" stroke="#7D559F" stroke-width="2.1" />
<line x1="583.90" y1="615.00" x2="583.90" y2="676.00" stroke="#7D559F" stroke-width="2.1" />
<line x1="567.13" y1="636.40" x2="567.13" y2="649.00" stroke="#7D559F" stroke-width="2.1" />
<line x1="600.93" y1="636.40" x2="600.93" y2="649.00" stroke="#7D559F" stroke-width="2.1" />
<line x1="577.60" y1="615.00" x2="590.20" y2="615.00" stroke="#7D559F" stroke-width="2.1" />
<line x1="577.60" y1="676.00" x2="590.20" y2="676.00" stroke="#7D559F" stroke-width="2.1" />
<line x1="588.92" y1="625.90" x2="624.02" y2="625.90" stroke="#7D559F" stroke-width="2.1" />
<line x1="606.60" y1="598.00" x2="606.60" y2="659.60" stroke="#7D559F" stroke-width="2.1" />
<line x1="588.92" y1="619.60" x2="588.92" y2="632.20" stroke="#7D559F" stroke-width="2.1" />
<line x1="624.02" y1="619.60" x2="624.02" y2="632.20" stroke="#7D559F" stroke-width="2.1" />
<line x1="600.30" y1="598.00" x2="612.90" y2="598.00" stroke="#7D559F" stroke-width="2.1" />
<line x1="600.30" y1="659.60" x2="612.90" y2="659.60" stroke="#7D559F" stroke-width="2.1" />
<line x1="609.92" y1="593.30" x2="645.02" y2="593.30" stroke="#7D559F" stroke-width="2.1" />
<line x1="627.60" y1="564.70" x2="627.60" y2="620.00" stroke="#7D559F" stroke-width="2.1" />
<line x1="609.92" y1="587.00" x2="609.92" y2="599.60" stroke="#7D559F" stroke-width="2.1" />
<line x1="645.02" y1="587.00" x2="645.02" y2="599.60" stroke="#7D559F" stroke-width="2.1" />
<line x1="621.30" y1="564.70" x2="633.90" y2="564.70" stroke="#7D559F" stroke-width="2.1" />
<line x1="621.30" y1="620.00" x2="633.90" y2="620.00" stroke="#7D559F" stroke-width="2.1" />
<line x1="615.10" y1="608.80" x2="648.90" y2="608.80" stroke="#7D559F" stroke-width="2.1" />
<line x1="632.00" y1="580.00" x2="632.00" y2="635.00" stroke="#7D559F" stroke-width="2.1" />
<line x1="615.10" y1="602.50" x2="615.10" y2="615.10" stroke="#7D559F" stroke-width="2.1" />
<line x1="648.90" y1="602.50" x2="648.90" y2="615.10" stroke="#7D559F" stroke-width="2.1" />
<line x1="625.70" y1="580.00" x2="638.30" y2="580.00" stroke="#7D559F" stroke-width="2.1" />
<line x1="625.70" y1="635.00" x2="638.30" y2="635.00" stroke="#7D559F" stroke-width="2.1" />
<line x1="635.13" y1="603.30" x2="668.93" y2="603.30" stroke="#7D559F" stroke-width="2.1" />
<line x1="651.90" y1="566.50" x2="651.90" y2="640.00" stroke="#7D559F" stroke-width="2.1" />
<line x1="635.13" y1="597.00" x2="635.13" y2="609.60" stroke="#7D559F" stroke-width="2.1" />
<line x1="668.93" y1="597.00" x2="668.93" y2="609.60" stroke="#7D559F" stroke-width="2.1" />
<line x1="645.60" y1="566.50" x2="658.20" y2="566.50" stroke="#7D559F" stroke-width="2.1" />
<line x1="645.60" y1="640.00" x2="658.20" y2="640.00" stroke="#7D559F" stroke-width="2.1" />
<line x1="631.89" y1="616.50" x2="666.99" y2="616.50" stroke="#7D559F" stroke-width="2.1" />
<line x1="649.70" y1="590.00" x2="649.70" y2="645.00" stroke="#7D559F" stroke-width="2.1" />
<line x1="631.89" y1="610.20" x2="631.89" y2="622.80" stroke="#7D559F" stroke-width="2.1" />
<line x1="666.99" y1="610.20" x2="666.99" y2="622.80" stroke="#7D559F" stroke-width="2.1" />
<line x1="643.40" y1="590.00" x2="656.00" y2="590.00" stroke="#7D559F" stroke-width="2.1" />
<line x1="643.40" y1="645.00" x2="656.00" y2="645.00" stroke="#7D559F" stroke-width="2.1" />
<line x1="616.07" y1="629.80" x2="649.87" y2="629.80" stroke="#7D559F" stroke-width="2.1" />
<line x1="633.10" y1="605.00" x2="633.10" y2="651.90" stroke="#7D559F" stroke-width="2.1" />
<line x1="616.07" y1="623.50" x2="616.07" y2="636.10" stroke="#7D559F" stroke-width="2.1" />
<line x1="649.87" y1="623.50" x2="649.87" y2="636.10" stroke="#7D559F" stroke-width="2.1" />
<line x1="626.80" y1="605.00" x2="639.40" y2="605.00" stroke="#7D559F" stroke-width="2.1" />
<line x1="626.80" y1="651.90" x2="639.40" y2="651.90" stroke="#7D559F" stroke-width="2.1" />
<line x1="659.04" y1="612.10" x2="692.84" y2="612.10" stroke="#7D559F" stroke-width="2.1" />
<line x1="676.20" y1="573.60" x2="676.20" y2="649.60" stroke="#7D559F" stroke-width="2.1" />
<line x1="659.04" y1="605.80" x2="659.04" y2="618.40" stroke="#7D559F" stroke-width="2.1" />
<line x1="692.84" y1="605.80" x2="692.84" y2="618.40" stroke="#7D559F" stroke-width="2.1" />
<line x1="669.90" y1="573.60" x2="682.50" y2="573.60" stroke="#7D559F" stroke-width="2.1" />
<line x1="669.90" y1="649.60" x2="682.50" y2="649.60" stroke="#7D559F" stroke-width="2.1" />
<line x1="660.98" y1="614.30" x2="694.78" y2="614.30" stroke="#7D559F" stroke-width="2.1" />
<line x1="678.40" y1="593.90" x2="678.40" y2="633.60" stroke="#7D559F" stroke-width="2.1" />
<line x1="660.98" y1="608.00" x2="660.98" y2="620.60" stroke="#7D559F" stroke-width="2.1" />
<line x1="694.78" y1="608.00" x2="694.78" y2="620.60" stroke="#7D559F" stroke-width="2.1" />
<line x1="672.10" y1="593.90" x2="684.70" y2="593.90" stroke="#7D559F" stroke-width="2.1" />
<line x1="672.10" y1="633.60" x2="684.70" y2="633.60" stroke="#7D559F" stroke-width="2.1" />
<path d="M487.30,582.40 L494.70,589.80 L487.30,597.20 L479.90,589.80 Z" fill="#7E4BA4" stroke="#4E2E70" stroke-width="0.9"/>
<path d="M494.10,587.20 L501.50,594.60 L494.10,602.00 L486.70,594.60 Z" fill="#7E4BA4" stroke="#4E2E70" stroke-width="0.9"/>
<path d="M511.50,608.50 L518.90,615.90 L511.50,623.30 L504.10,615.90 Z" fill="#7E4BA4" stroke="#4E2E70" stroke-width="0.9"/>
<path d="M519.20,603.60 L526.60,611.00 L519.20,618.40 L511.80,611.00 Z" fill="#7E4BA4" stroke="#4E2E70" stroke-width="0.9"/>
<path d="M523.10,619.10 L530.50,626.50 L523.10,633.90 L515.70,626.50 Z" fill="#7E4BA4" stroke="#4E2E70" stroke-width="0.9"/>
<path d="M492.10,627.80 L499.50,635.20 L492.10,642.60 L484.70,635.20 Z" fill="#7E4BA4" stroke="#4E2E70" stroke-width="0.9"/>
<path d="M497.90,630.70 L505.30,638.10 L497.90,645.50 L490.50,638.10 Z" fill="#7E4BA4" stroke="#4E2E70" stroke-width="0.9"/>
<path d="M527.00,628.80 L534.40,636.20 L527.00,643.60 L519.60,636.20 Z" fill="#7E4BA4" stroke="#4E2E70" stroke-width="0.9"/>
<path d="M535.60,635.50 L543.00,642.90 L535.60,650.30 L528.20,642.90 Z" fill="#7E4BA4" stroke="#4E2E70" stroke-width="0.9"/>
<path d="M545.30,628.80 L552.70,636.20 L545.30,643.60 L537.90,636.20 Z" fill="#7E4BA4" stroke="#4E2E70" stroke-width="0.9"/>
<path d="M550.10,643.30 L557.50,650.70 L550.10,658.10 L542.70,650.70 Z" fill="#7E4BA4" stroke="#4E2E70" stroke-width="0.9"/>
<path d="M550.10,603.60 L557.50,611.00 L550.10,618.40 L542.70,611.00 Z" fill="#7E4BA4" stroke="#4E2E70" stroke-width="0.9"/>
<path d="M553.00,590.10 L560.40,597.50 L553.00,604.90 L545.60,597.50 Z" fill="#7E4BA4" stroke="#4E2E70" stroke-width="0.9"/>
<path d="M560.80,626.20 L568.20,633.60 L560.80,641.00 L553.40,633.60 Z" fill="#7E4BA4" stroke="#4E2E70" stroke-width="0.9"/>
<path d="M569.20,612.20 L576.60,619.60 L569.20,627.00 L561.80,619.60 Z" fill="#7E4BA4" stroke="#4E2E70" stroke-width="0.9"/>
<path d="M573.40,604.50 L580.80,611.90 L573.40,619.30 L566.00,611.90 Z" fill="#7E4BA4" stroke="#4E2E70" stroke-width="0.9"/>
<path d="M583.90,626.20 L591.30,633.60 L583.90,641.00 L576.50,633.60 Z" fill="#7E4BA4" stroke="#4E2E70" stroke-width="0.9"/>
<path d="M583.90,635.30 L591.30,642.70 L583.90,650.10 L576.50,642.70 Z" fill="#7E4BA4" stroke="#4E2E70" stroke-width="0.9"/>
<path d="M606.60,618.50 L614.00,625.90 L606.60,633.30 L599.20,625.90 Z" fill="#7E4BA4" stroke="#4E2E70" stroke-width="0.9"/>
<path d="M627.60,585.90 L635.00,593.30 L627.60,600.70 L620.20,593.30 Z" fill="#7E4BA4" stroke="#4E2E70" stroke-width="0.9"/>
<path d="M632.00,601.40 L639.40,608.80 L632.00,616.20 L624.60,608.80 Z" fill="#7E4BA4" stroke="#4E2E70" stroke-width="0.9"/>
<path d="M651.90,595.90 L659.30,603.30 L651.90,610.70 L644.50,603.30 Z" fill="#7E4BA4" stroke="#4E2E70" stroke-width="0.9"/>
<path d="M649.70,609.10 L657.10,616.50 L649.70,623.90 L642.30,616.50 Z" fill="#7E4BA4" stroke="#4E2E70" stroke-width="0.9"/>
<path d="M633.10,622.40 L640.50,629.80 L633.10,637.20 L625.70,629.80 Z" fill="#7E4BA4" stroke="#4E2E70" stroke-width="0.9"/>
<path d="M676.20,604.70 L683.60,612.10 L676.20,619.50 L668.80,612.10 Z" fill="#7E4BA4" stroke="#4E2E70" stroke-width="0.9"/>
<path d="M678.40,606.90 L685.80,614.30 L678.40,621.70 L671.00,614.30 Z" fill="#7E4BA4" stroke="#4E2E70" stroke-width="0.9"/>
<polygon points="697.50,598.30 700.97,607.73 711.01,608.11 703.11,614.32 705.85,623.99 697.50,618.40 689.15,623.99 691.89,614.32 683.99,608.11 694.03,607.73" fill="#F6EC1E" stroke="#6B6420" stroke-width="0.9"/>
<path d="M245.2,842.0 L245.2,429.6 L793.3,429.6 L793.3,842.0" fill="none" stroke="#111" stroke-width="1.6"/>
<line x1="244.20" y1="842.00" x2="794.10" y2="842.00" stroke="#111" stroke-width="1.8" />
</svg>
</body></html>
